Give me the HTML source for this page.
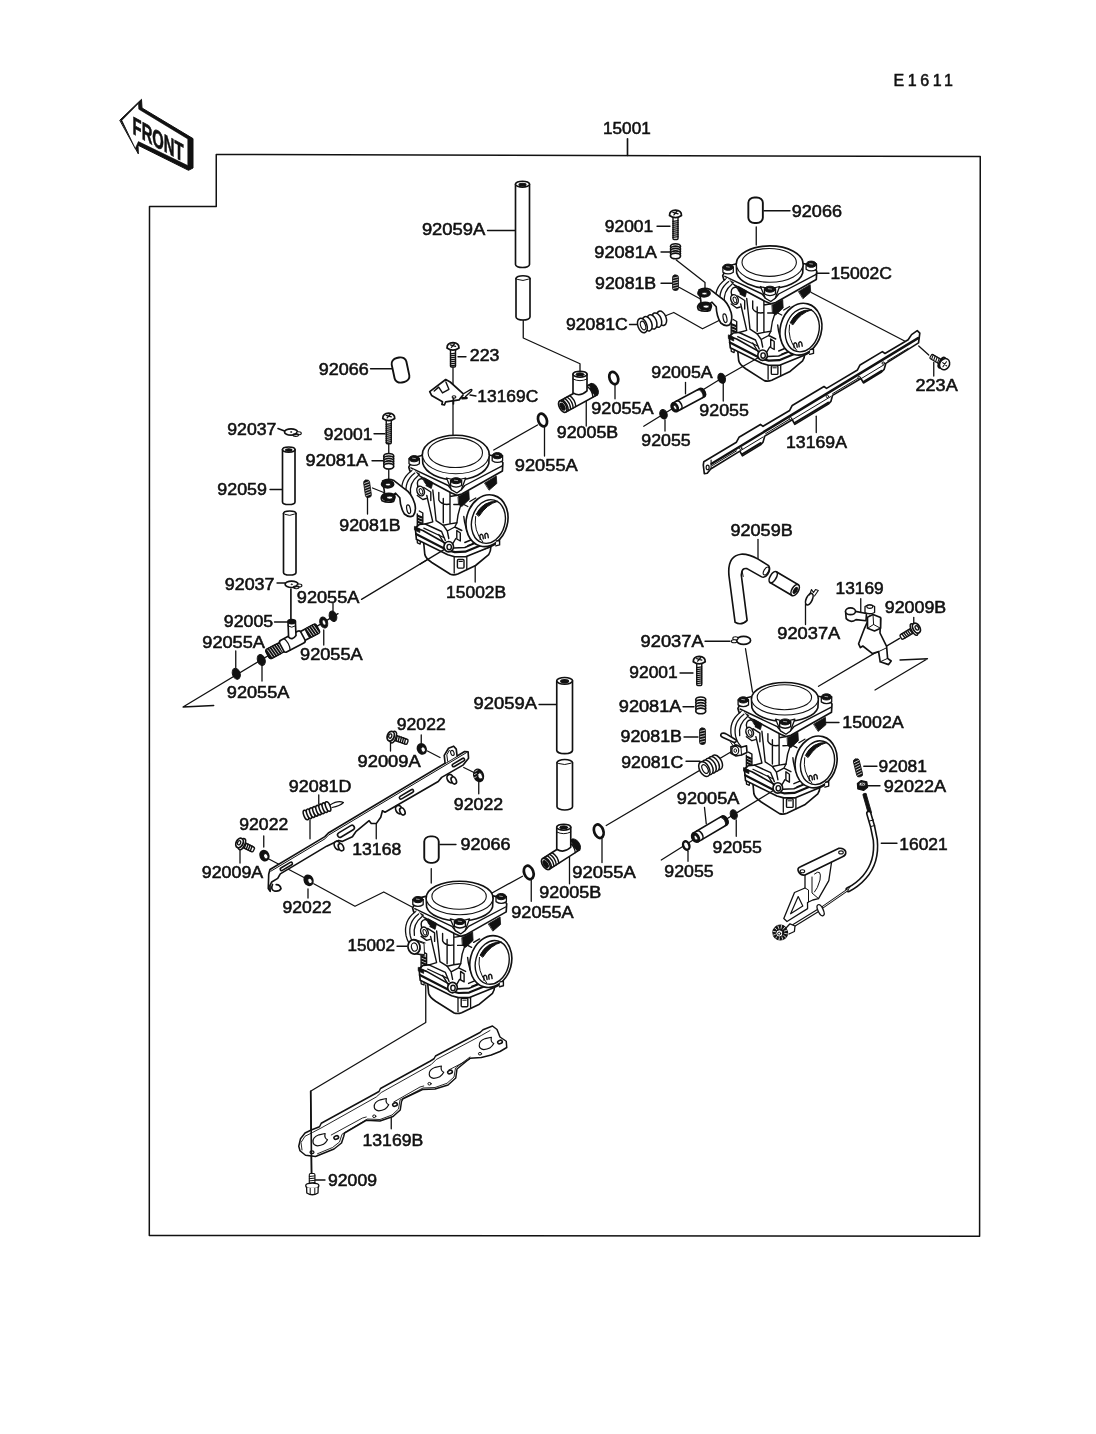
<!DOCTYPE html>
<html><head><meta charset="utf-8"><title>E1611 Carburetor</title>
<style>
html,body{margin:0;padding:0;background:#fff;}
body{width:1096px;height:1434px;overflow:hidden;}
svg{display:block;filter:grayscale(1);}
svg text{font-family:"Liberation Sans",sans-serif;font-size:16.4px;fill:#111;stroke:#111;stroke-width:0.55px;}
.g line,.g path,.g ellipse,.g polyline,.g rect,.g circle{stroke:#111;stroke-linecap:round;stroke-linejoin:round;}
</style></head><body>
<svg width="1096" height="1434" viewBox="0 0 1096 1434">
<rect x="0" y="0" width="1096" height="1434" fill="#fff"/>
<g fill="none" stroke="#111" stroke-width="1.65" stroke-linecap="round" stroke-linejoin="round">
<path d="M216.25,154.50 L980.25,156.50 L979.60,1236.25 L149.30,1235.50 L149.50,206.50 L216.25,206.50 Z" stroke-width="1.5"/>
<line x1="627.50" y1="138.75" x2="627.50" y2="155.50"/>
<g stroke-width="1.3">
<line x1="448.70" y1="546.70" x2="361.50" y2="599.40"/>
<path d="M338.00,613.60 L183.00,707.00 L213.75,705.50"/>
<line x1="493.75" y1="450.00" x2="537.50" y2="425.00"/>
<line x1="811.25" y1="292.50" x2="907.50" y2="342.50"/>
<line x1="918.75" y1="346.00" x2="928.75" y2="355.00"/>
<line x1="643.75" y1="426.25" x2="721.70" y2="378.30"/>
<path d="M523.25,320.00 L523.25,338.00 L580.00,363.75 L580.00,372.00"/>
<line x1="453.00" y1="367.00" x2="453.00" y2="436.00"/>
<path d="M676.25,260.00 L705.00,282.50 L705.00,291.00"/>
<line x1="679.50" y1="287.50" x2="700.00" y2="298.75"/>
<path d="M665.00,316.00 L673.75,312.50 L702.50,328.75 L724.00,318.00"/>
<line x1="756.25" y1="227.00" x2="756.25" y2="245.00"/>
<line x1="388.75" y1="443.00" x2="388.75" y2="484.00"/>
<line x1="372.50" y1="488.00" x2="383.75" y2="492.50"/>
<line x1="899.60" y1="638.40" x2="818.50" y2="686.30"/>
<path d="M900.00,660.00 L927.50,658.75 L875.00,690.00"/>
<line x1="745.50" y1="648.75" x2="752.50" y2="692.00"/>
<line x1="732.50" y1="751.00" x2="606.25" y2="825.50"/>
<line x1="661.25" y1="860.00" x2="733.75" y2="814.50"/>
<line x1="522.50" y1="876.25" x2="492.00" y2="893.00"/>
<path d="M266.00,857.50 L305.00,878.00"/>
<path d="M313.75,883.75 L355.00,906.25 L383.75,892.00 L413.00,907.50"/>
<line x1="431.25" y1="868.75" x2="431.25" y2="883.00"/>
<path d="M425.75,985.00 L425.75,1022.50 L310.50,1091.25 L311.50,1174.00"/>
<line x1="427.50" y1="751.00" x2="440.00" y2="757.50"/>
<line x1="463.75" y1="767.50" x2="475.00" y2="773.00"/>
</g>
<g transform="translate(455.80,454.50)">
<g transform="translate(0,0)">
<path d="M-32.3,86 L-31,100 Q-30,104 -24,108 L-5.4,119.8 Q-2,121 2,119.5 L19.8,111 L32.9,100.1 Q35,97 35.1,92 L9.9,101.2 L-1.1,101.2 Z" fill="#fff"/>
<path d="M-1.6,101.2 L-1.6,118.5 M11,102.3 L11,115" stroke-width="1.3"/>
<rect x="1.6" y="105" width="6.6" height="8.6" rx="1" stroke-width="1.4"/>
<path d="M3.2,107 L6.6,107" stroke-width="1"/>
</g>
<path d="M-40.5,73.3 L-39.4,84.8 L-8,100.3 L-1.1,102.2 L9.9,102.2 L34,92.4 L42,88.5 L44,84 L40,80 L9,93 L-2,93.5 L-33,76 Z" fill="#fff"/>
<path d="M-39.8,79.5 L-8.7,95.6 L-1,97.6 L9.5,97.2 L33,87.6" stroke-width="2.2"/>
<path d="M-32,73.6 L-12,83 M12,91 L36,81.5" stroke-width="1.2"/>
<path d="M-40.5,73.3 L-36.5,70 L-31,69.5" />
<path d="M-38.6,85.6 L-38.4,88.4 L-35.6,89.6 L-35.4,87" stroke-width="1.3"/>
<path d="M-26,30 L-23,66 L-31,70 L-14,78 L-9,86 L0,90 L12,84 L14,60 L22,45 L30,30 Z" fill="#fff" stroke="none"/>
<path d="M-23,35.5 L-19.7,66.2 M-29,41 L-23,67.3 L-30.6,69.5 M-5.8,37 L-5.8,69.4 M-12.5,44 L-12.5,68.3 M-17,38 L-17,45.5 Q-15,49.5 -9,50 L-5.8,49.5 M5.5,49.7 Q2,58 1.1,68.3 M-19.7,66.2 L-12.5,70.8 L-5.8,69.4 L1.1,68.3 M-5.8,42 L3,40.5 M-2,50 L5.5,49.7 L12,45" stroke-width="1.4"/>
<path d="M-12.5,70.8 L-8.5,76.5 L-1,72.5 L1.1,68.3 M-8.5,76.5 L-7,84 M-1,72.5 L6,76 M1,76 L4.5,78.5 L4.5,86.5 L1,84.5 Z M-30.6,69.5 L-14.2,77 L-10.5,86 M8,62 Q9,74 15,84 M9,88 L15,85.5" stroke-width="1.4"/>
<ellipse cx="-7.1" cy="92.2" rx="4.8" ry="5.2" fill="#fff"/>
<ellipse cx="-6.6" cy="92.6" rx="2.2" ry="2.7" stroke-width="1.4"/>
<path d="M-11.2,89.5 L-17,80 M-3,89.2 L0,84" stroke-width="1.4"/>
<ellipse cx="31.2" cy="66.2" rx="20.6" ry="26.2" transform="rotate(15 31.2 66.2)" fill="#fff"/>
<ellipse cx="32.6" cy="67" rx="16.6" ry="22.2" transform="rotate(15 32.6 67)" stroke-width="1.4"/>
<path d="M20.6,59.5 Q27,46.2 42,46.8 Q31,49.6 23.4,61.5 Z" fill="#111" stroke-width="1"/>
<path d="M19.8,62 Q17.5,76 27,87.4" stroke-width="1"/>
<path d="M24.5,84.8 L24,81 Q25.5,78.6 27,81 L27.5,84.2 M29.5,83.8 L29,80 Q30.5,77.6 32,80 L32.5,83.2" stroke-width="1.4"/>
<path d="M14,47 L20,43.5 M12,52 L8,50" stroke-width="1.3"/>
<path d="M40.5,86.5 L43.8,86 L43.8,90.4 L40,91.4" stroke-width="1.4" fill="#fff"/>
<path d="M-47,12.7 L-45.9,16.5 L-4.3,38.5 L1.1,40.8 L6,39.5 L46.6,16.5 L47.1,8.3 L42,2 L30,0 L-30,0 L-42,3 Z" fill="#fff"/>
<path d="M-44.9,13.3 L-7.6,31 L-4.3,35.2 L1.1,37.6 L5.5,35.2 L9,31 L46,11.6" stroke-width="1.4"/>
<path d="M2.5,42 L13,36.5 L13.5,45 L6,52 L3,50 Z" fill="#111" stroke-width="0.8"/>
<path d="M29,28.4 L40.5,21.6 L41,29 L33.5,35.5 Z" fill="#111" stroke-width="0.8"/>
<path d="M-31,23.5 L-23,28 L-24.5,34 L-32,30 Z" fill="#111" stroke-width="0.8"/>
<path d="M-43.5,15.6 L-36,19.6 L-38.5,22.6 L-45,18.8 Z" fill="#111" stroke-width="0.8"/>
<path d="M-46.8,4.2 L-46.8,9.2 Q-41.6,12.7 -36.4,9.2 L-36.4,4.2" fill="#fff" stroke-width="1.3"/>
<ellipse cx="-41.6" cy="4.2" rx="5.2" ry="3.1" fill="#111" stroke-width="1"/>
<path d="M-43.2,3.7 L-40.4,4.1" stroke="#fff" stroke-width="0.6"/>
<path d="M36.4,1.2 L36.4,6.2 Q41.6,9.7 46.8,6.2 L46.8,1.2" fill="#fff" stroke-width="1.3"/>
<ellipse cx="41.6" cy="1.2" rx="5.2" ry="3.1" fill="#111" stroke-width="1"/>
<path d="M40.0,0.7 L42.8,1.1" stroke="#fff" stroke-width="0.6"/>
<path d="M-33.4,0.00 L-33,9.00 A33.4,19.30 0 0 0 33,9.00 L33.4,0.00 Z" fill="#fff"/>
<ellipse cx="0" cy="0.00" rx="33.4" ry="19.30" fill="#fff" stroke="none"/>
<path d="M-33.4,0.00 A33.4,19.30 0 0 1 33.4,0.00"/>
<path d="M-33.4,0.00 A33.4,19.30 0 0 0 33.4,0.00" stroke-width="1.1"/>
<ellipse cx="-0.5" cy="-1.80" rx="27.2" ry="14.80" stroke-width="1.1"/>
<path d="M-9.3,23.5 L-4.3,35.2 L1.1,38.5 L5.5,35.2 L9.9,23.5 Q0,27 -9.3,23.5 Z" fill="#fff" stroke-width="1.3"/>
<path d="M-5.2,26 L-5.2,31 Q0.3,34.2 5.8,31 L5.8,26" fill="#fff" stroke-width="1.4"/>
<ellipse cx="0.3" cy="26.2" rx="5.5" ry="3" fill="#111" stroke-width="1"/>
<path d="M-1.4,25.7 L1.8,26.1" stroke="#fff" stroke-width="0.6"/>
<path d="M-42,15 Q-57,24 -54,41 Q-52,50 -45,54 L-33,50 L-30,30 Z" fill="#fff" stroke="none"/>
<path d="M-44.5,16.5 Q-56.5,25.5 -53.5,40.5 Q-51.5,48.5 -46.5,52.5 M-41,18.6 Q-52,27 -49.3,40.5 Q-47.8,47 -44,50.5 M-37.5,21 Q-47,28.5 -45.2,40" stroke-width="1.3"/>
<path d="M-38,32 Q-40,25 -34,24 L-26,30" stroke-width="1.4"/>
<ellipse cx="-35.2" cy="36.5" rx="3.6" ry="5" transform="rotate(-20 -35.2 36.5)" fill="#fff" stroke-width="1.5"/>
<ellipse cx="-34.8" cy="36.9" rx="1.6" ry="2.9" transform="rotate(-20 -34.8 36.9)" stroke-width="1"/>
<path d="M-32,33 L-25,37.5 L-25,46 M-38.5,41 L-33,45 L-29.5,44" stroke-width="1.4"/>
<path d="M-36.5,56.5 L-33,58.5 L-33,69 M-38.5,59.5 L-38.5,72" stroke-width="1.4"/>
<path d="M-37.6,61.4 L-33.8,63 M-37.6,64.4 L-33.8,66 M-37.6,67.4 L-33.8,69" stroke-width="2.2"/>
<path d="M-41,72 L-36,74.4 L-36,78 L-41,75.6 Z" fill="#111" stroke-width="0.8"/>
</g>
<g transform="translate(769.70,263.00)">
<g transform="translate(0,-2.2)">
<path d="M-32.3,86 L-31,100 Q-30,104 -24,108 L-5.4,119.8 Q-2,121 2,119.5 L19.8,111 L32.9,100.1 Q35,97 35.1,92 L9.9,101.2 L-1.1,101.2 Z" fill="#fff"/>
<path d="M-1.6,101.2 L-1.6,118.5 M11,102.3 L11,115" stroke-width="1.3"/>
<rect x="1.6" y="105" width="6.6" height="8.6" rx="1" stroke-width="1.4"/>
<path d="M3.2,107 L6.6,107" stroke-width="1"/>
</g>
<path d="M-40.5,73.3 L-39.4,84.8 L-8,100.3 L-1.1,102.2 L9.9,102.2 L34,92.4 L42,88.5 L44,84 L40,80 L9,93 L-2,93.5 L-33,76 Z" fill="#fff"/>
<path d="M-39.8,79.5 L-8.7,95.6 L-1,97.6 L9.5,97.2 L33,87.6" stroke-width="2.2"/>
<path d="M-32,73.6 L-12,83 M12,91 L36,81.5" stroke-width="1.2"/>
<path d="M-40.5,73.3 L-36.5,70 L-31,69.5" />
<path d="M-38.6,85.6 L-38.4,88.4 L-35.6,89.6 L-35.4,87" stroke-width="1.3"/>
<path d="M-26,30 L-23,66 L-31,70 L-14,78 L-9,86 L0,90 L12,84 L14,60 L22,45 L30,30 Z" fill="#fff" stroke="none"/>
<path d="M-23,35.5 L-19.7,66.2 M-29,41 L-23,67.3 L-30.6,69.5 M-5.8,37 L-5.8,69.4 M-12.5,44 L-12.5,68.3 M-17,38 L-17,45.5 Q-15,49.5 -9,50 L-5.8,49.5 M5.5,49.7 Q2,58 1.1,68.3 M-19.7,66.2 L-12.5,70.8 L-5.8,69.4 L1.1,68.3 M-5.8,42 L3,40.5 M-2,50 L5.5,49.7 L12,45" stroke-width="1.4"/>
<path d="M-12.5,70.8 L-8.5,76.5 L-1,72.5 L1.1,68.3 M-8.5,76.5 L-7,84 M-1,72.5 L6,76 M1,76 L4.5,78.5 L4.5,86.5 L1,84.5 Z M-30.6,69.5 L-14.2,77 L-10.5,86 M8,62 Q9,74 15,84 M9,88 L15,85.5" stroke-width="1.4"/>
<ellipse cx="-7.1" cy="92.2" rx="4.8" ry="5.2" fill="#fff"/>
<ellipse cx="-6.6" cy="92.6" rx="2.2" ry="2.7" stroke-width="1.4"/>
<path d="M-11.2,89.5 L-17,80 M-3,89.2 L0,84" stroke-width="1.4"/>
<ellipse cx="31.2" cy="66.2" rx="20.6" ry="26.2" transform="rotate(15 31.2 66.2)" fill="#fff"/>
<ellipse cx="32.6" cy="67" rx="16.6" ry="22.2" transform="rotate(15 32.6 67)" stroke-width="1.4"/>
<path d="M20.6,59.5 Q27,46.2 42,46.8 Q31,49.6 23.4,61.5 Z" fill="#111" stroke-width="1"/>
<path d="M19.8,62 Q17.5,76 27,87.4" stroke-width="1"/>
<path d="M24.5,84.8 L24,81 Q25.5,78.6 27,81 L27.5,84.2 M29.5,83.8 L29,80 Q30.5,77.6 32,80 L32.5,83.2" stroke-width="1.4"/>
<path d="M14,47 L20,43.5 M12,52 L8,50" stroke-width="1.3"/>
<path d="M40.5,86.5 L43.8,86 L43.8,90.4 L40,91.4" stroke-width="1.4" fill="#fff"/>
<path d="M-47,12.7 L-45.9,16.5 L-4.3,38.5 L1.1,40.8 L6,39.5 L46.6,16.5 L47.1,8.3 L42,2 L30,0 L-30,0 L-42,3 Z" fill="#fff"/>
<path d="M-44.9,13.3 L-7.6,31 L-4.3,35.2 L1.1,37.6 L5.5,35.2 L9,31 L46,11.6" stroke-width="1.4"/>
<path d="M2.5,42 L13,36.5 L13.5,45 L6,52 L3,50 Z" fill="#111" stroke-width="0.8"/>
<path d="M29,28.4 L40.5,21.6 L41,29 L33.5,35.5 Z" fill="#111" stroke-width="0.8"/>
<path d="M-31,23.5 L-23,28 L-24.5,34 L-32,30 Z" fill="#111" stroke-width="0.8"/>
<path d="M-43.5,15.6 L-36,19.6 L-38.5,22.6 L-45,18.8 Z" fill="#111" stroke-width="0.8"/>
<path d="M-46.8,4.2 L-46.8,9.2 Q-41.6,12.7 -36.4,9.2 L-36.4,4.2" fill="#fff" stroke-width="1.3"/>
<ellipse cx="-41.6" cy="4.2" rx="5.2" ry="3.1" fill="#111" stroke-width="1"/>
<path d="M-43.2,3.7 L-40.4,4.1" stroke="#fff" stroke-width="0.6"/>
<path d="M36.4,1.2 L36.4,6.2 Q41.6,9.7 46.8,6.2 L46.8,1.2" fill="#fff" stroke-width="1.3"/>
<ellipse cx="41.6" cy="1.2" rx="5.2" ry="3.1" fill="#111" stroke-width="1"/>
<path d="M40.0,0.7 L42.8,1.1" stroke="#fff" stroke-width="0.6"/>
<path d="M-33.4,1.10 L-33,10.10 A33.4,18.20 0 0 0 33,10.10 L33.4,1.10 Z" fill="#fff"/>
<ellipse cx="0" cy="1.10" rx="33.4" ry="18.20" fill="#fff" stroke="none"/>
<path d="M-33.4,1.10 A33.4,18.20 0 0 1 33.4,1.10"/>
<path d="M-33.4,1.10 A33.4,18.20 0 0 0 33.4,1.10" stroke-width="1.1"/>
<ellipse cx="-0.5" cy="-0.60" rx="27.2" ry="13.96" stroke-width="1.1"/>
<path d="M-9.3,23.5 L-4.3,35.2 L1.1,38.5 L5.5,35.2 L9.9,23.5 Q0,27 -9.3,23.5 Z" fill="#fff" stroke-width="1.3"/>
<path d="M-5.2,26 L-5.2,31 Q0.3,34.2 5.8,31 L5.8,26" fill="#fff" stroke-width="1.4"/>
<ellipse cx="0.3" cy="26.2" rx="5.5" ry="3" fill="#111" stroke-width="1"/>
<path d="M-1.4,25.7 L1.8,26.1" stroke="#fff" stroke-width="0.6"/>
<path d="M-42,15 Q-57,24 -54,41 Q-52,50 -45,54 L-33,50 L-30,30 Z" fill="#fff" stroke="none"/>
<path d="M-44.5,16.5 Q-56.5,25.5 -53.5,40.5 Q-51.5,48.5 -46.5,52.5 M-41,18.6 Q-52,27 -49.3,40.5 Q-47.8,47 -44,50.5 M-37.5,21 Q-47,28.5 -45.2,40" stroke-width="1.3"/>
<path d="M-38,32 Q-40,25 -34,24 L-26,30" stroke-width="1.4"/>
<ellipse cx="-35.2" cy="36.5" rx="3.6" ry="5" transform="rotate(-20 -35.2 36.5)" fill="#fff" stroke-width="1.5"/>
<ellipse cx="-34.8" cy="36.9" rx="1.6" ry="2.9" transform="rotate(-20 -34.8 36.9)" stroke-width="1"/>
<path d="M-32,33 L-25,37.5 L-25,46 M-38.5,41 L-33,45 L-29.5,44" stroke-width="1.4"/>
<path d="M-36.5,56.5 L-33,58.5 L-33,69 M-38.5,59.5 L-38.5,72" stroke-width="1.4"/>
<path d="M-37.6,61.4 L-33.8,63 M-37.6,64.4 L-33.8,66 M-37.6,67.4 L-33.8,69" stroke-width="2.2"/>
<path d="M-41,72 L-36,74.4 L-36,78 L-41,75.6 Z" fill="#111" stroke-width="0.8"/>
</g>
<g transform="translate(784.90,695.70)">
<g transform="translate(0,-1.9)">
<path d="M-32.3,86 L-31,100 Q-30,104 -24,108 L-5.4,119.8 Q-2,121 2,119.5 L19.8,111 L32.9,100.1 Q35,97 35.1,92 L9.9,101.2 L-1.1,101.2 Z" fill="#fff"/>
<path d="M-1.6,101.2 L-1.6,118.5 M11,102.3 L11,115" stroke-width="1.3"/>
<rect x="1.6" y="105" width="6.6" height="8.6" rx="1" stroke-width="1.4"/>
<path d="M3.2,107 L6.6,107" stroke-width="1"/>
</g>
<path d="M-40.5,73.3 L-39.4,84.8 L-8,100.3 L-1.1,102.2 L9.9,102.2 L34,92.4 L42,88.5 L44,84 L40,80 L9,93 L-2,93.5 L-33,76 Z" fill="#fff"/>
<path d="M-39.8,79.5 L-8.7,95.6 L-1,97.6 L9.5,97.2 L33,87.6" stroke-width="2.2"/>
<path d="M-32,73.6 L-12,83 M12,91 L36,81.5" stroke-width="1.2"/>
<path d="M-40.5,73.3 L-36.5,70 L-31,69.5" />
<path d="M-38.6,85.6 L-38.4,88.4 L-35.6,89.6 L-35.4,87" stroke-width="1.3"/>
<path d="M-26,30 L-23,66 L-31,70 L-14,78 L-9,86 L0,90 L12,84 L14,60 L22,45 L30,30 Z" fill="#fff" stroke="none"/>
<path d="M-23,35.5 L-19.7,66.2 M-29,41 L-23,67.3 L-30.6,69.5 M-5.8,37 L-5.8,69.4 M-12.5,44 L-12.5,68.3 M-17,38 L-17,45.5 Q-15,49.5 -9,50 L-5.8,49.5 M5.5,49.7 Q2,58 1.1,68.3 M-19.7,66.2 L-12.5,70.8 L-5.8,69.4 L1.1,68.3 M-5.8,42 L3,40.5 M-2,50 L5.5,49.7 L12,45" stroke-width="1.4"/>
<path d="M-12.5,70.8 L-8.5,76.5 L-1,72.5 L1.1,68.3 M-8.5,76.5 L-7,84 M-1,72.5 L6,76 M1,76 L4.5,78.5 L4.5,86.5 L1,84.5 Z M-30.6,69.5 L-14.2,77 L-10.5,86 M8,62 Q9,74 15,84 M9,88 L15,85.5" stroke-width="1.4"/>
<ellipse cx="-7.1" cy="92.2" rx="4.8" ry="5.2" fill="#fff"/>
<ellipse cx="-6.6" cy="92.6" rx="2.2" ry="2.7" stroke-width="1.4"/>
<path d="M-11.2,89.5 L-17,80 M-3,89.2 L0,84" stroke-width="1.4"/>
<ellipse cx="31.2" cy="66.2" rx="20.6" ry="26.2" transform="rotate(15 31.2 66.2)" fill="#fff"/>
<ellipse cx="32.6" cy="67" rx="16.6" ry="22.2" transform="rotate(15 32.6 67)" stroke-width="1.4"/>
<path d="M20.6,59.5 Q27,46.2 42,46.8 Q31,49.6 23.4,61.5 Z" fill="#111" stroke-width="1"/>
<path d="M19.8,62 Q17.5,76 27,87.4" stroke-width="1"/>
<path d="M24.5,84.8 L24,81 Q25.5,78.6 27,81 L27.5,84.2 M29.5,83.8 L29,80 Q30.5,77.6 32,80 L32.5,83.2" stroke-width="1.4"/>
<path d="M14,47 L20,43.5 M12,52 L8,50" stroke-width="1.3"/>
<path d="M40.5,86.5 L43.8,86 L43.8,90.4 L40,91.4" stroke-width="1.4" fill="#fff"/>
<path d="M-47,12.7 L-45.9,16.5 L-4.3,38.5 L1.1,40.8 L6,39.5 L46.6,16.5 L47.1,8.3 L42,2 L30,0 L-30,0 L-42,3 Z" fill="#fff"/>
<path d="M-44.9,13.3 L-7.6,31 L-4.3,35.2 L1.1,37.6 L5.5,35.2 L9,31 L46,11.6" stroke-width="1.4"/>
<path d="M2.5,42 L13,36.5 L13.5,45 L6,52 L3,50 Z" fill="#111" stroke-width="0.8"/>
<path d="M29,28.4 L40.5,21.6 L41,29 L33.5,35.5 Z" fill="#111" stroke-width="0.8"/>
<path d="M-31,23.5 L-23,28 L-24.5,34 L-32,30 Z" fill="#111" stroke-width="0.8"/>
<path d="M-43.5,15.6 L-36,19.6 L-38.5,22.6 L-45,18.8 Z" fill="#111" stroke-width="0.8"/>
<path d="M-46.8,4.2 L-46.8,9.2 Q-41.6,12.7 -36.4,9.2 L-36.4,4.2" fill="#fff" stroke-width="1.3"/>
<ellipse cx="-41.6" cy="4.2" rx="5.2" ry="3.1" fill="#111" stroke-width="1"/>
<path d="M-43.2,3.7 L-40.4,4.1" stroke="#fff" stroke-width="0.6"/>
<path d="M36.4,1.2 L36.4,6.2 Q41.6,9.7 46.8,6.2 L46.8,1.2" fill="#fff" stroke-width="1.3"/>
<ellipse cx="41.6" cy="1.2" rx="5.2" ry="3.1" fill="#111" stroke-width="1"/>
<path d="M40.0,0.7 L42.8,1.1" stroke="#fff" stroke-width="0.6"/>
<path d="M-33.4,3.05 L-33,12.05 A33.4,16.25 0 0 0 33,12.05 L33.4,3.05 Z" fill="#fff"/>
<ellipse cx="0" cy="3.05" rx="33.4" ry="16.25" fill="#fff" stroke="none"/>
<path d="M-33.4,3.05 A33.4,16.25 0 0 1 33.4,3.05"/>
<path d="M-33.4,3.05 A33.4,16.25 0 0 0 33.4,3.05" stroke-width="1.1"/>
<ellipse cx="-0.5" cy="1.53" rx="27.2" ry="12.46" stroke-width="1.1"/>
<path d="M-9.3,23.5 L-4.3,35.2 L1.1,38.5 L5.5,35.2 L9.9,23.5 Q0,27 -9.3,23.5 Z" fill="#fff" stroke-width="1.3"/>
<path d="M-5.2,26 L-5.2,31 Q0.3,34.2 5.8,31 L5.8,26" fill="#fff" stroke-width="1.4"/>
<ellipse cx="0.3" cy="26.2" rx="5.5" ry="3" fill="#111" stroke-width="1"/>
<path d="M-1.4,25.7 L1.8,26.1" stroke="#fff" stroke-width="0.6"/>
<path d="M-42,15 Q-57,24 -54,41 Q-52,50 -45,54 L-33,50 L-30,30 Z" fill="#fff" stroke="none"/>
<path d="M-44.5,16.5 Q-56.5,25.5 -53.5,40.5 Q-51.5,48.5 -46.5,52.5 M-41,18.6 Q-52,27 -49.3,40.5 Q-47.8,47 -44,50.5 M-37.5,21 Q-47,28.5 -45.2,40" stroke-width="1.3"/>
<path d="M-38,32 Q-40,25 -34,24 L-26,30" stroke-width="1.4"/>
<ellipse cx="-35.2" cy="36.5" rx="3.6" ry="5" transform="rotate(-20 -35.2 36.5)" fill="#fff" stroke-width="1.5"/>
<ellipse cx="-34.8" cy="36.9" rx="1.6" ry="2.9" transform="rotate(-20 -34.8 36.9)" stroke-width="1"/>
<path d="M-32,33 L-25,37.5 L-25,46 M-38.5,41 L-33,45 L-29.5,44" stroke-width="1.4"/>
<path d="M-36.5,56.5 L-33,58.5 L-33,69 M-38.5,59.5 L-38.5,72" stroke-width="1.4"/>
<path d="M-37.6,61.4 L-33.8,63 M-37.6,64.4 L-33.8,66 M-37.6,67.4 L-33.8,69" stroke-width="2.2"/>
<path d="M-41,72 L-36,74.4 L-36,78 L-41,75.6 Z" fill="#111" stroke-width="0.8"/>
</g>
<g transform="translate(459.60,895.40)">
<g transform="translate(0,-2.2)">
<path d="M-32.3,86 L-31,100 Q-30,104 -24,108 L-5.4,119.8 Q-2,121 2,119.5 L19.8,111 L32.9,100.1 Q35,97 35.1,92 L9.9,101.2 L-1.1,101.2 Z" fill="#fff"/>
<path d="M-1.6,101.2 L-1.6,118.5 M11,102.3 L11,115" stroke-width="1.3"/>
<rect x="1.6" y="105" width="6.6" height="8.6" rx="1" stroke-width="1.4"/>
<path d="M3.2,107 L6.6,107" stroke-width="1"/>
</g>
<path d="M-40.5,73.3 L-39.4,84.8 L-8,100.3 L-1.1,102.2 L9.9,102.2 L34,92.4 L42,88.5 L44,84 L40,80 L9,93 L-2,93.5 L-33,76 Z" fill="#fff"/>
<path d="M-39.8,79.5 L-8.7,95.6 L-1,97.6 L9.5,97.2 L33,87.6" stroke-width="2.2"/>
<path d="M-32,73.6 L-12,83 M12,91 L36,81.5" stroke-width="1.2"/>
<path d="M-40.5,73.3 L-36.5,70 L-31,69.5" />
<path d="M-38.6,85.6 L-38.4,88.4 L-35.6,89.6 L-35.4,87" stroke-width="1.3"/>
<path d="M-26,30 L-23,66 L-31,70 L-14,78 L-9,86 L0,90 L12,84 L14,60 L22,45 L30,30 Z" fill="#fff" stroke="none"/>
<path d="M-23,35.5 L-19.7,66.2 M-29,41 L-23,67.3 L-30.6,69.5 M-5.8,37 L-5.8,69.4 M-12.5,44 L-12.5,68.3 M-17,38 L-17,45.5 Q-15,49.5 -9,50 L-5.8,49.5 M5.5,49.7 Q2,58 1.1,68.3 M-19.7,66.2 L-12.5,70.8 L-5.8,69.4 L1.1,68.3 M-5.8,42 L3,40.5 M-2,50 L5.5,49.7 L12,45" stroke-width="1.4"/>
<path d="M-12.5,70.8 L-8.5,76.5 L-1,72.5 L1.1,68.3 M-8.5,76.5 L-7,84 M-1,72.5 L6,76 M1,76 L4.5,78.5 L4.5,86.5 L1,84.5 Z M-30.6,69.5 L-14.2,77 L-10.5,86 M8,62 Q9,74 15,84 M9,88 L15,85.5" stroke-width="1.4"/>
<ellipse cx="-7.1" cy="92.2" rx="4.8" ry="5.2" fill="#fff"/>
<ellipse cx="-6.6" cy="92.6" rx="2.2" ry="2.7" stroke-width="1.4"/>
<path d="M-11.2,89.5 L-17,80 M-3,89.2 L0,84" stroke-width="1.4"/>
<ellipse cx="31.2" cy="66.2" rx="20.6" ry="26.2" transform="rotate(15 31.2 66.2)" fill="#fff"/>
<ellipse cx="32.6" cy="67" rx="16.6" ry="22.2" transform="rotate(15 32.6 67)" stroke-width="1.4"/>
<path d="M20.6,59.5 Q27,46.2 42,46.8 Q31,49.6 23.4,61.5 Z" fill="#111" stroke-width="1"/>
<path d="M19.8,62 Q17.5,76 27,87.4" stroke-width="1"/>
<path d="M24.5,84.8 L24,81 Q25.5,78.6 27,81 L27.5,84.2 M29.5,83.8 L29,80 Q30.5,77.6 32,80 L32.5,83.2" stroke-width="1.4"/>
<path d="M14,47 L20,43.5 M12,52 L8,50" stroke-width="1.3"/>
<path d="M40.5,86.5 L43.8,86 L43.8,90.4 L40,91.4" stroke-width="1.4" fill="#fff"/>
<path d="M-47,12.7 L-45.9,16.5 L-4.3,38.5 L1.1,40.8 L6,39.5 L46.6,16.5 L47.1,8.3 L42,2 L30,0 L-30,0 L-42,3 Z" fill="#fff"/>
<path d="M-44.9,13.3 L-7.6,31 L-4.3,35.2 L1.1,37.6 L5.5,35.2 L9,31 L46,11.6" stroke-width="1.4"/>
<path d="M2.5,42 L13,36.5 L13.5,45 L6,52 L3,50 Z" fill="#111" stroke-width="0.8"/>
<path d="M29,28.4 L40.5,21.6 L41,29 L33.5,35.5 Z" fill="#111" stroke-width="0.8"/>
<path d="M-31,23.5 L-23,28 L-24.5,34 L-32,30 Z" fill="#111" stroke-width="0.8"/>
<path d="M-43.5,15.6 L-36,19.6 L-38.5,22.6 L-45,18.8 Z" fill="#111" stroke-width="0.8"/>
<path d="M-46.8,4.2 L-46.8,9.2 Q-41.6,12.7 -36.4,9.2 L-36.4,4.2" fill="#fff" stroke-width="1.3"/>
<ellipse cx="-41.6" cy="4.2" rx="5.2" ry="3.1" fill="#111" stroke-width="1"/>
<path d="M-43.2,3.7 L-40.4,4.1" stroke="#fff" stroke-width="0.6"/>
<path d="M36.4,1.2 L36.4,6.2 Q41.6,9.7 46.8,6.2 L46.8,1.2" fill="#fff" stroke-width="1.3"/>
<ellipse cx="41.6" cy="1.2" rx="5.2" ry="3.1" fill="#111" stroke-width="1"/>
<path d="M40.0,0.7 L42.8,1.1" stroke="#fff" stroke-width="0.6"/>
<path d="M-33.4,2.55 L-33,11.55 A33.4,16.75 0 0 0 33,11.55 L33.4,2.55 Z" fill="#fff"/>
<ellipse cx="0" cy="2.55" rx="33.4" ry="16.75" fill="#fff" stroke="none"/>
<path d="M-33.4,2.55 A33.4,16.75 0 0 1 33.4,2.55"/>
<path d="M-33.4,2.55 A33.4,16.75 0 0 0 33.4,2.55" stroke-width="1.1"/>
<ellipse cx="-0.5" cy="0.99" rx="27.2" ry="12.84" stroke-width="1.1"/>
<path d="M-9.3,23.5 L-4.3,35.2 L1.1,38.5 L5.5,35.2 L9.9,23.5 Q0,27 -9.3,23.5 Z" fill="#fff" stroke-width="1.3"/>
<path d="M-5.2,26 L-5.2,31 Q0.3,34.2 5.8,31 L5.8,26" fill="#fff" stroke-width="1.4"/>
<ellipse cx="0.3" cy="26.2" rx="5.5" ry="3" fill="#111" stroke-width="1"/>
<path d="M-1.4,25.7 L1.8,26.1" stroke="#fff" stroke-width="0.6"/>
<path d="M-42,15 Q-57,24 -54,41 Q-52,50 -45,54 L-33,50 L-30,30 Z" fill="#fff" stroke="none"/>
<path d="M-44.5,16.5 Q-56.5,25.5 -53.5,40.5 Q-51.5,48.5 -46.5,52.5 M-41,18.6 Q-52,27 -49.3,40.5 Q-47.8,47 -44,50.5 M-37.5,21 Q-47,28.5 -45.2,40" stroke-width="1.3"/>
<path d="M-38,32 Q-40,25 -34,24 L-26,30" stroke-width="1.4"/>
<ellipse cx="-35.2" cy="36.5" rx="3.6" ry="5" transform="rotate(-20 -35.2 36.5)" fill="#fff" stroke-width="1.5"/>
<ellipse cx="-34.8" cy="36.9" rx="1.6" ry="2.9" transform="rotate(-20 -34.8 36.9)" stroke-width="1"/>
<path d="M-32,33 L-25,37.5 L-25,46 M-38.5,41 L-33,45 L-29.5,44" stroke-width="1.4"/>
<path d="M-36.5,56.5 L-33,58.5 L-33,69 M-38.5,59.5 L-38.5,72" stroke-width="1.4"/>
<path d="M-37.6,61.4 L-33.8,63 M-37.6,64.4 L-33.8,66 M-37.6,67.4 L-33.8,69" stroke-width="2.2"/>
<path d="M-41,72 L-36,74.4 L-36,78 L-41,75.6 Z" fill="#111" stroke-width="0.8"/>
</g>
<g stroke-width="1.3">
<line x1="444.80" y1="549.10" x2="420.00" y2="564.10"/>
<line x1="758.60" y1="357.50" x2="725.50" y2="376.20"/>
<line x1="773.80" y1="790.30" x2="737.50" y2="812.40"/>
<line x1="487.50" y1="230.50" x2="515.00" y2="230.50"/>
<line x1="764.00" y1="210.75" x2="790.00" y2="210.75"/>
<line x1="657.00" y1="226.25" x2="670.00" y2="226.25"/>
<line x1="661.00" y1="252.00" x2="670.00" y2="252.00"/>
<line x1="661.00" y1="283.25" x2="672.00" y2="283.25"/>
<line x1="816.25" y1="273.25" x2="829.00" y2="273.25"/>
<line x1="629.50" y1="324.50" x2="640.00" y2="324.50"/>
<line x1="370.50" y1="368.75" x2="393.00" y2="368.75"/>
<line x1="458.00" y1="356.75" x2="466.00" y2="356.75"/>
<line x1="470.00" y1="395.00" x2="476.00" y2="396.00"/>
<line x1="685.50" y1="382.50" x2="685.50" y2="393.75"/>
<line x1="933.75" y1="362.50" x2="933.75" y2="376.00"/>
<line x1="615.00" y1="385.50" x2="615.00" y2="398.75"/>
<line x1="723.25" y1="382.50" x2="723.25" y2="401.00"/>
<line x1="586.25" y1="397.50" x2="586.25" y2="426.00"/>
<line x1="665.00" y1="420.00" x2="665.00" y2="431.00"/>
<line x1="816.25" y1="416.25" x2="816.25" y2="432.50"/>
<line x1="544.50" y1="426.00" x2="544.50" y2="456.00"/>
<line x1="374.00" y1="433.75" x2="385.00" y2="433.75"/>
<line x1="372.00" y1="460.75" x2="383.00" y2="460.75"/>
<line x1="270.00" y1="489.50" x2="283.00" y2="489.50"/>
<line x1="367.50" y1="497.00" x2="367.50" y2="514.00"/>
<line x1="758.00" y1="539.50" x2="758.00" y2="558.75"/>
<line x1="277.00" y1="583.00" x2="285.00" y2="583.00"/>
<line x1="860.75" y1="598.75" x2="860.75" y2="617.50"/>
<line x1="475.20" y1="566.00" x2="475.20" y2="582.00"/>
<line x1="913.75" y1="617.50" x2="913.75" y2="623.75"/>
<line x1="274.50" y1="622.00" x2="287.00" y2="622.00"/>
<line x1="805.50" y1="603.75" x2="805.50" y2="624.50"/>
<line x1="705.00" y1="641.25" x2="730.00" y2="641.25"/>
<line x1="235.75" y1="651.00" x2="235.75" y2="667.50"/>
<line x1="323.75" y1="630.00" x2="323.75" y2="645.00"/>
<line x1="333.00" y1="603.00" x2="333.00" y2="611.00"/>
<line x1="680.00" y1="673.00" x2="693.00" y2="673.00"/>
<line x1="262.00" y1="665.00" x2="262.00" y2="681.00"/>
<line x1="539.00" y1="704.50" x2="556.00" y2="704.50"/>
<line x1="683.00" y1="706.75" x2="694.00" y2="706.75"/>
<line x1="825.30" y1="722.50" x2="839.00" y2="722.50"/>
<line x1="421.25" y1="735.00" x2="421.25" y2="743.00"/>
<line x1="684.00" y1="737.00" x2="698.00" y2="737.00"/>
<line x1="390.50" y1="742.00" x2="390.50" y2="751.00"/>
<line x1="686.00" y1="761.25" x2="700.00" y2="761.25"/>
<line x1="863.75" y1="766.25" x2="877.00" y2="766.25"/>
<line x1="868.00" y1="785.75" x2="880.00" y2="785.75"/>
<line x1="318.75" y1="795.00" x2="318.75" y2="804.00"/>
<line x1="704.50" y1="807.50" x2="706.25" y2="823.75"/>
<line x1="478.75" y1="782.50" x2="478.75" y2="793.75"/>
<line x1="263.75" y1="836.00" x2="263.75" y2="847.00"/>
<line x1="440.00" y1="844.50" x2="456.00" y2="844.50"/>
<line x1="881.25" y1="843.25" x2="897.00" y2="843.25"/>
<line x1="736.25" y1="820.00" x2="736.25" y2="836.25"/>
<line x1="376.25" y1="822.50" x2="376.25" y2="838.75"/>
<line x1="688.00" y1="851.25" x2="688.00" y2="861.25"/>
<line x1="240.00" y1="850.00" x2="240.00" y2="863.00"/>
<line x1="602.00" y1="838.75" x2="602.00" y2="862.50"/>
<line x1="569.50" y1="857.50" x2="569.50" y2="883.75"/>
<line x1="308.00" y1="889.00" x2="308.00" y2="898.00"/>
<line x1="531.25" y1="880.00" x2="531.25" y2="901.25"/>
<line x1="397.00" y1="946.25" x2="407.00" y2="946.25"/>
<line x1="391.25" y1="1116.25" x2="391.25" y2="1128.75"/>
<line x1="315.00" y1="1180.00" x2="325.00" y2="1180.00"/>
<line x1="310.00" y1="820.00" x2="310.00" y2="838.75"/>
</g>
<path d="M515.50,184.19 L515.50,264.56 A7.00,2.94 0 0 0 529.50,264.56 L529.50,184.19" fill="#fff"/>
<ellipse cx="522.50" cy="184.19" rx="7.00" ry="2.94" fill="#fff"/>
<ellipse cx="522.50" cy="184.59" rx="3.50" ry="1.32" stroke-width="1.2" fill="#111"/>
<path d="M516.00,278.69 L516.00,317.06 A7.00,2.94 0 0 0 530.00,317.06 L530.00,278.69" fill="#fff"/>
<path d="M516.00,278.69 A7.00,2.94 0 0 1 530.00,278.69"/>
<path d="M517.50,279.49 Q523.00,281.69 528.50,279.19" stroke-width="1"/>
<path d="M282.50,449.62 L282.50,501.88 A6.25,2.62 0 0 0 295.00,501.88 L295.00,449.62" fill="#fff"/>
<ellipse cx="288.75" cy="449.62" rx="6.25" ry="2.62" fill="#fff"/>
<ellipse cx="288.75" cy="450.02" rx="3.12" ry="1.18" stroke-width="1.2" fill="#111"/>
<path d="M283.50,513.62 L283.50,572.38 A6.25,2.62 0 0 0 296.00,572.38 L296.00,513.62" fill="#fff"/>
<path d="M283.50,513.62 A6.25,2.62 0 0 1 296.00,513.62"/>
<path d="M285.00,514.42 Q289.75,516.62 294.50,514.12" stroke-width="1"/>
<path d="M556.75,680.81 L556.75,750.44 A7.88,3.31 0 0 0 572.50,750.44 L572.50,680.81" fill="#fff"/>
<ellipse cx="564.62" cy="680.81" rx="7.88" ry="3.31" fill="#fff"/>
<ellipse cx="564.62" cy="681.21" rx="3.94" ry="1.49" stroke-width="1.2" fill="#111"/>
<path d="M557.00,762.75 L557.00,806.75 A7.75,3.25 0 0 0 572.50,806.75 L572.50,762.75" fill="#fff"/>
<path d="M557.00,762.75 A7.75,3.25 0 0 1 572.50,762.75"/>
<path d="M558.50,763.55 Q564.75,765.75 571.00,763.25" stroke-width="1"/>
<rect x="748.35" y="197.45" width="14.50" height="25.50" rx="6.09" ry="5.22" fill="#fff" stroke-width="1.9" transform="rotate(0 755.60 210.20)"/>
<rect x="393.00" y="357.50" width="15.00" height="25.00" rx="6.30" ry="5.40" fill="#fff" stroke-width="1.9" transform="rotate(-12 400.50 370.00)"/>
<rect x="424.25" y="836.35" width="14.50" height="26.50" rx="6.09" ry="5.22" fill="#fff" stroke-width="1.9" transform="rotate(0 431.50 849.60)"/>
<rect x="673.00" y="216.50" width="5.00" height="23.00" rx="1" fill="#fff" stroke-width="1.4"/>
<line x1="673.00" y1="221.40" x2="678.00" y2="220.60" stroke-width="1.35"/>
<line x1="673.00" y1="223.40" x2="678.00" y2="222.60" stroke-width="1.35"/>
<line x1="673.00" y1="225.40" x2="678.00" y2="224.60" stroke-width="1.35"/>
<line x1="673.00" y1="227.40" x2="678.00" y2="226.60" stroke-width="1.35"/>
<line x1="673.00" y1="229.40" x2="678.00" y2="228.60" stroke-width="1.35"/>
<line x1="673.00" y1="231.40" x2="678.00" y2="230.60" stroke-width="1.35"/>
<line x1="673.00" y1="233.40" x2="678.00" y2="232.60" stroke-width="1.35"/>
<line x1="673.00" y1="235.40" x2="678.00" y2="234.60" stroke-width="1.35"/>
<line x1="673.00" y1="237.40" x2="678.00" y2="236.60" stroke-width="1.35"/>
<path d="M669.50,215.50 Q669.50,210.30 675.50,210.10 Q681.50,210.30 681.50,215.50 Q675.50,219.70 669.50,215.50 Z" fill="#fff" stroke-width="1.7"/>
<path d="M672.90,212.30 L678.10,213.90 M677.10,211.30 L673.90,214.90" stroke-width="1.3"/>
<g transform="rotate(0 675.50 251.25)"><ellipse cx="675.50" cy="246.55" rx="5.00" ry="2.80" stroke-width="1.7" fill="#fff"/><ellipse cx="675.50" cy="248.90" rx="5.00" ry="2.80" stroke-width="1.7" fill="#fff"/><ellipse cx="675.50" cy="251.25" rx="5.00" ry="2.80" stroke-width="1.7" fill="#fff"/><ellipse cx="675.50" cy="253.60" rx="5.00" ry="2.80" stroke-width="1.7" fill="#fff"/><ellipse cx="675.50" cy="255.95" rx="5.00" ry="2.80" stroke-width="1.7" fill="#fff"/></g>
<g transform="rotate(0 675.50 282.75)"><rect x="672.50" y="275.00" width="6.00" height="15.50" rx="2.40" fill="#111" stroke-width="0.8"/><line x1="673.30" y1="278.08" x2="677.70" y2="277.08" stroke="#fff" stroke-width="0.7"/><line x1="673.30" y1="280.67" x2="677.70" y2="279.67" stroke="#fff" stroke-width="0.7"/><line x1="673.30" y1="283.25" x2="677.70" y2="282.25" stroke="#fff" stroke-width="0.7"/><line x1="673.30" y1="285.83" x2="677.70" y2="284.83" stroke="#fff" stroke-width="0.7"/><line x1="673.30" y1="288.42" x2="677.70" y2="287.42" stroke="#fff" stroke-width="0.7"/></g>
<rect x="386.25" y="419.50" width="5.00" height="24.25" rx="1" fill="#fff" stroke-width="1.4"/>
<line x1="386.25" y1="424.40" x2="391.25" y2="423.60" stroke-width="1.35"/>
<line x1="386.25" y1="426.40" x2="391.25" y2="425.60" stroke-width="1.35"/>
<line x1="386.25" y1="428.40" x2="391.25" y2="427.60" stroke-width="1.35"/>
<line x1="386.25" y1="430.40" x2="391.25" y2="429.60" stroke-width="1.35"/>
<line x1="386.25" y1="432.40" x2="391.25" y2="431.60" stroke-width="1.35"/>
<line x1="386.25" y1="434.40" x2="391.25" y2="433.60" stroke-width="1.35"/>
<line x1="386.25" y1="436.40" x2="391.25" y2="435.60" stroke-width="1.35"/>
<line x1="386.25" y1="438.40" x2="391.25" y2="437.60" stroke-width="1.35"/>
<line x1="386.25" y1="440.40" x2="391.25" y2="439.60" stroke-width="1.35"/>
<line x1="386.25" y1="442.40" x2="391.25" y2="441.60" stroke-width="1.35"/>
<path d="M382.75,418.50 Q382.75,413.30 388.75,413.10 Q394.75,413.30 394.75,418.50 Q388.75,422.70 382.75,418.50 Z" fill="#fff" stroke-width="1.7"/>
<path d="M386.15,415.30 L391.35,416.90 M390.35,414.30 L387.15,417.90" stroke-width="1.3"/>
<g transform="rotate(0 388.75 461.25)"><ellipse cx="388.75" cy="456.30" rx="5.00" ry="2.80" stroke-width="1.7" fill="#fff"/><ellipse cx="388.75" cy="458.78" rx="5.00" ry="2.80" stroke-width="1.7" fill="#fff"/><ellipse cx="388.75" cy="461.25" rx="5.00" ry="2.80" stroke-width="1.7" fill="#fff"/><ellipse cx="388.75" cy="463.73" rx="5.00" ry="2.80" stroke-width="1.7" fill="#fff"/><ellipse cx="388.75" cy="466.20" rx="5.00" ry="2.80" stroke-width="1.7" fill="#fff"/></g>
<g transform="rotate(-8 367.50 488.75)"><rect x="364.50" y="480.00" width="6.00" height="17.50" rx="2.40" fill="#111" stroke-width="0.8"/><line x1="365.30" y1="483.00" x2="369.70" y2="482.00" stroke="#fff" stroke-width="0.7"/><line x1="365.30" y1="485.50" x2="369.70" y2="484.50" stroke="#fff" stroke-width="0.7"/><line x1="365.30" y1="488.00" x2="369.70" y2="487.00" stroke="#fff" stroke-width="0.7"/><line x1="365.30" y1="490.50" x2="369.70" y2="489.50" stroke="#fff" stroke-width="0.7"/><line x1="365.30" y1="493.00" x2="369.70" y2="492.00" stroke="#fff" stroke-width="0.7"/><line x1="365.30" y1="495.50" x2="369.70" y2="494.50" stroke="#fff" stroke-width="0.7"/></g>
<rect x="696.75" y="662.75" width="5.00" height="22.75" rx="1" fill="#fff" stroke-width="1.4"/>
<line x1="696.75" y1="667.65" x2="701.75" y2="666.85" stroke-width="1.35"/>
<line x1="696.75" y1="669.65" x2="701.75" y2="668.85" stroke-width="1.35"/>
<line x1="696.75" y1="671.65" x2="701.75" y2="670.85" stroke-width="1.35"/>
<line x1="696.75" y1="673.65" x2="701.75" y2="672.85" stroke-width="1.35"/>
<line x1="696.75" y1="675.65" x2="701.75" y2="674.85" stroke-width="1.35"/>
<line x1="696.75" y1="677.65" x2="701.75" y2="676.85" stroke-width="1.35"/>
<line x1="696.75" y1="679.65" x2="701.75" y2="678.85" stroke-width="1.35"/>
<line x1="696.75" y1="681.65" x2="701.75" y2="680.85" stroke-width="1.35"/>
<line x1="696.75" y1="683.65" x2="701.75" y2="682.85" stroke-width="1.35"/>
<path d="M693.25,661.75 Q693.25,656.55 699.25,656.35 Q705.25,656.55 705.25,661.75 Q699.25,665.95 693.25,661.75 Z" fill="#fff" stroke-width="1.7"/>
<path d="M696.65,658.55 L701.85,660.15 M700.85,657.55 L697.65,661.15" stroke-width="1.3"/>
<g transform="rotate(0 700.75 705.38)"><ellipse cx="700.75" cy="699.80" rx="5.00" ry="2.80" stroke-width="1.7" fill="#fff"/><ellipse cx="700.75" cy="702.59" rx="5.00" ry="2.80" stroke-width="1.7" fill="#fff"/><ellipse cx="700.75" cy="705.38" rx="5.00" ry="2.80" stroke-width="1.7" fill="#fff"/><ellipse cx="700.75" cy="708.16" rx="5.00" ry="2.80" stroke-width="1.7" fill="#fff"/><ellipse cx="700.75" cy="710.95" rx="5.00" ry="2.80" stroke-width="1.7" fill="#fff"/></g>
<g transform="rotate(0 702.50 736.25)"><rect x="699.50" y="728.00" width="6.00" height="16.50" rx="2.40" fill="#111" stroke-width="0.8"/><line x1="700.30" y1="731.25" x2="704.70" y2="730.25" stroke="#fff" stroke-width="0.7"/><line x1="700.30" y1="734.00" x2="704.70" y2="733.00" stroke="#fff" stroke-width="0.7"/><line x1="700.30" y1="736.75" x2="704.70" y2="735.75" stroke="#fff" stroke-width="0.7"/><line x1="700.30" y1="739.50" x2="704.70" y2="738.50" stroke="#fff" stroke-width="0.7"/><line x1="700.30" y1="742.25" x2="704.70" y2="741.25" stroke="#fff" stroke-width="0.7"/></g>
<rect x="450.50" y="349.00" width="5.00" height="18.00" rx="1" fill="#fff" stroke-width="1.4"/>
<line x1="450.50" y1="353.90" x2="455.50" y2="353.10" stroke-width="1.35"/>
<line x1="450.50" y1="355.90" x2="455.50" y2="355.10" stroke-width="1.35"/>
<line x1="450.50" y1="357.90" x2="455.50" y2="357.10" stroke-width="1.35"/>
<line x1="450.50" y1="359.90" x2="455.50" y2="359.10" stroke-width="1.35"/>
<line x1="450.50" y1="361.90" x2="455.50" y2="361.10" stroke-width="1.35"/>
<line x1="450.50" y1="363.90" x2="455.50" y2="363.10" stroke-width="1.35"/>
<line x1="450.50" y1="365.90" x2="455.50" y2="365.10" stroke-width="1.35"/>
<path d="M447.00,348.00 Q447.00,342.80 453.00,342.60 Q459.00,342.80 459.00,348.00 Q453.00,352.20 447.00,348.00 Z" fill="#fff" stroke-width="1.7"/>
<path d="M450.40,344.80 L455.60,346.40 M454.60,343.80 L451.40,347.40" stroke-width="1.3"/>
<g transform="rotate(-14 858.00 767.88)"><rect x="855.00" y="758.75" width="6.00" height="18.25" rx="2.40" fill="#111" stroke-width="0.8"/><line x1="855.80" y1="761.86" x2="860.20" y2="760.86" stroke="#fff" stroke-width="0.7"/><line x1="855.80" y1="764.46" x2="860.20" y2="763.46" stroke="#fff" stroke-width="0.7"/><line x1="855.80" y1="767.07" x2="860.20" y2="766.07" stroke="#fff" stroke-width="0.7"/><line x1="855.80" y1="769.68" x2="860.20" y2="768.68" stroke="#fff" stroke-width="0.7"/><line x1="855.80" y1="772.29" x2="860.20" y2="771.29" stroke="#fff" stroke-width="0.7"/><line x1="855.80" y1="774.89" x2="860.20" y2="773.89" stroke="#fff" stroke-width="0.7"/></g>
<g transform="translate(640.50,326.20) rotate(-20.50)">
<ellipse cx="22.56" cy="0" rx="4.50" ry="7.50" fill="#fff" stroke-width="1.5"/>
<ellipse cx="17.42" cy="0" rx="4.50" ry="7.50" fill="#fff" stroke-width="1.5"/>
<ellipse cx="12.28" cy="0" rx="4.50" ry="7.50" fill="#fff" stroke-width="1.5"/>
<ellipse cx="7.14" cy="0" rx="4.50" ry="7.50" fill="#fff" stroke-width="1.5"/>
<ellipse cx="2.00" cy="0" rx="4.50" ry="7.50" fill="#fff" stroke-width="1.5"/>
<ellipse cx="2.6" cy="0.3" rx="2.40" ry="4.50" stroke-width="1.2"/>
</g>
<g transform="translate(702.60,770.00) rotate(-28.26)">
<ellipse cx="16.16" cy="0" rx="4.80" ry="8.00" fill="#fff" stroke-width="1.5"/>
<ellipse cx="12.62" cy="0" rx="4.80" ry="8.00" fill="#fff" stroke-width="1.5"/>
<ellipse cx="9.08" cy="0" rx="4.80" ry="8.00" fill="#fff" stroke-width="1.5"/>
<ellipse cx="5.54" cy="0" rx="4.80" ry="8.00" fill="#fff" stroke-width="1.5"/>
<ellipse cx="2.00" cy="0" rx="4.80" ry="8.00" fill="#fff" stroke-width="1.5"/>
<ellipse cx="2.6" cy="0.3" rx="2.56" ry="4.80" stroke-width="1.2"/>
</g>
<g transform="translate(306.00,815.00) rotate(-21.12)">
<ellipse cx="0.00" cy="0" rx="2.20" ry="5.00" fill="#fff" stroke-width="1.6"/>
<ellipse cx="3.37" cy="0" rx="2.20" ry="5.00" fill="#fff" stroke-width="1.6"/>
<ellipse cx="6.74" cy="0" rx="2.20" ry="5.00" fill="#fff" stroke-width="1.6"/>
<ellipse cx="10.11" cy="0" rx="2.20" ry="5.00" fill="#fff" stroke-width="1.6"/>
<ellipse cx="13.48" cy="0" rx="2.20" ry="5.00" fill="#fff" stroke-width="1.6"/>
<ellipse cx="16.85" cy="0" rx="2.20" ry="5.00" fill="#fff" stroke-width="1.6"/>
<ellipse cx="20.22" cy="0" rx="2.20" ry="5.00" fill="#fff" stroke-width="1.6"/>
<ellipse cx="23.58" cy="0" rx="2.20" ry="5.00" fill="#fff" stroke-width="1.6"/>
</g>
<path d="M330,805 Q338,800 343.5,802.5 Q340,806 332,807.5" stroke-width="1.1"/>
<ellipse cx="613.75" cy="378.00" rx="4.20" ry="6.40" stroke-width="2.7" fill="#fff" transform="rotate(-20 613.75 378.00)"/>
<ellipse cx="542.50" cy="420.00" rx="4.20" ry="6.60" stroke-width="2.7" fill="#fff" transform="rotate(-20 542.50 420.00)"/>
<ellipse cx="598.75" cy="831.25" rx="4.60" ry="7.00" stroke-width="2.7" fill="#fff" transform="rotate(-20 598.75 831.25)"/>
<ellipse cx="528.75" cy="872.50" rx="4.60" ry="7.00" stroke-width="2.7" fill="#fff" transform="rotate(-20 528.75 872.50)"/>
<ellipse cx="721.70" cy="378.30" rx="3.60" ry="5.20" stroke-width="1" fill="#111" transform="rotate(-20 721.70 378.30)"/>
<ellipse cx="663.50" cy="414.30" rx="3.60" ry="4.90" stroke-width="1" fill="#111" transform="rotate(-20 663.50 414.30)"/>
<ellipse cx="733.75" cy="814.50" rx="3.40" ry="4.80" stroke-width="1" fill="#111" transform="rotate(-20 733.75 814.50)"/>
<ellipse cx="686.25" cy="845.50" rx="3.00" ry="4.40" stroke-width="2.4" fill="#fff" transform="rotate(-20 686.25 845.50)"/>
<ellipse cx="333.00" cy="616.25" rx="3.60" ry="5.40" stroke-width="1" fill="#111" transform="rotate(-20 333.00 616.25)"/>
<ellipse cx="323.75" cy="622.50" rx="3.80" ry="5.60" stroke-width="1" fill="#111" transform="rotate(-20 323.75 622.50)"/>
<ellipse cx="324.05" cy="622.50" rx="1.52" ry="2.69" stroke-width="0.5" fill="#fff" transform="rotate(-20 324.05 622.50)"/>
<ellipse cx="261.25" cy="660.00" rx="3.80" ry="5.60" stroke-width="1" fill="#111" transform="rotate(-20 261.25 660.00)"/>
<ellipse cx="236.25" cy="673.75" rx="3.80" ry="5.60" stroke-width="1" fill="#111" transform="rotate(-20 236.25 673.75)"/>
<g transform="translate(580.00,371.50)">
<g transform="translate(-0.6,25.9) rotate(-28.90)">
<path d="M-19,-6.3 L17,-6.3 L17,6.3 L-19,6.3 Z" fill="#fff"/>
<ellipse cx="17" cy="0" rx="3.2" ry="6.3" fill="#111" stroke-width="1"/>
<ellipse cx="-19" cy="0" rx="3.4" ry="6.3" fill="#fff"/>
<ellipse cx="-19.2" cy="0" rx="1.8" ry="3.8" stroke-width="1.3" fill="#111"/>
<path d="M-16,-6.3 Q-13,0 -16,6.3 M-13.4,-6.3 Q-10.4,0 -13.4,6.3 M-10.6,-6.3 Q-7.6,0 -10.6,6.3 M-7.6,-6.3 Q-4.6,0 -7.6,6.3 M12,-6.3 Q15,0 12,6.3 M14.4,-6.3 Q17.4,0 14.4,6.3" stroke-width="1.4"/>
</g>
<path d="M-7,2.5 L-7,21.40 Q0,25.90 7,19.40 L7,2.5 Z" fill="#fff"/>
<path d="M-7,7.5 Q0,11 7,7.5" stroke-width="1"/>
<ellipse cx="0" cy="2.7" rx="7" ry="3" fill="#fff"/>
<ellipse cx="0" cy="2.9" rx="4" ry="1.6" stroke-width="1" fill="#111"/>
</g>
<g transform="translate(563.75,824.50)">
<g transform="translate(-1.9,29.25) rotate(-32.60)">
<path d="M-19,-6.3 L17,-6.3 L17,6.3 L-19,6.3 Z" fill="#fff"/>
<ellipse cx="17" cy="0" rx="3.2" ry="6.3" fill="#111" stroke-width="1"/>
<ellipse cx="-19" cy="0" rx="3.4" ry="6.3" fill="#fff"/>
<ellipse cx="-19.2" cy="0" rx="1.8" ry="3.8" stroke-width="1.3" fill="#111"/>
<path d="M-16,-6.3 Q-13,0 -16,6.3 M-13.4,-6.3 Q-10.4,0 -13.4,6.3 M-10.6,-6.3 Q-7.6,0 -10.6,6.3 M-7.6,-6.3 Q-4.6,0 -7.6,6.3 M12,-6.3 Q15,0 12,6.3 M14.4,-6.3 Q17.4,0 14.4,6.3" stroke-width="1.4"/>
</g>
<path d="M-7,2.5 L-7,24.75 Q0,29.25 7,22.75 L7,2.5 Z" fill="#fff"/>
<path d="M-7,7.5 Q0,11 7,7.5" stroke-width="1"/>
<ellipse cx="0" cy="2.7" rx="7" ry="3" fill="#fff"/>
<ellipse cx="0" cy="2.9" rx="4" ry="1.6" stroke-width="1" fill="#111"/>
</g>
<path d="M120,120 L141.5,99.3 L142,108 L193,138.6 L193,168 L188.5,170.3 L138,145.2 L138.3,153.5 Z" fill="#111" stroke-width="1"/>
<path d="M122,120.2 L138.4,103.6 L138.8,109.2 L187.8,138.9 L187.8,165.6 L138.4,141.6 L135.4,148.2 Z" fill="#fff" stroke-width="0.6"/>
</g><g>
<text transform="matrix(1,0.56,0,1,132.6,133.6)" x="0" y="0" textLength="51" lengthAdjust="spacingAndGlyphs" style="font-size:25px;font-weight:bold;stroke-width:0.7px">FRONT</text>
</g><g fill="none" stroke="#111" stroke-width="1.65" stroke-linecap="round" stroke-linejoin="round">
<g transform="translate(267.60,654.70) rotate(-28.01)">
<rect x="0" y="-5" width="56.86" height="10" rx="2" fill="#fff"/>
<rect x="0" y="-5.4" width="14" height="10.8" rx="2.5" fill="#111" stroke-width="1"/>
<line x1="2.20" y1="-4.2" x2="3.20" y2="4.2" stroke="#fff" stroke-width="0.7"/>
<line x1="4.70" y1="-4.2" x2="5.70" y2="4.2" stroke="#fff" stroke-width="0.7"/>
<line x1="7.20" y1="-4.2" x2="8.20" y2="4.2" stroke="#fff" stroke-width="0.7"/>
<line x1="9.70" y1="-4.2" x2="10.70" y2="4.2" stroke="#fff" stroke-width="0.7"/>
<line x1="12.20" y1="-4.2" x2="13.20" y2="4.2" stroke="#fff" stroke-width="0.7"/>
<rect x="44.86" y="-5.2" width="12" height="10.4" rx="2.5" fill="#111" stroke-width="1"/>
<line x1="46.86" y1="-4.2" x2="47.86" y2="4.2" stroke="#fff" stroke-width="0.7"/>
<line x1="49.36" y1="-4.2" x2="50.36" y2="4.2" stroke="#fff" stroke-width="0.7"/>
<line x1="51.86" y1="-4.2" x2="52.86" y2="4.2" stroke="#fff" stroke-width="0.7"/>
<line x1="54.36" y1="-4.2" x2="55.36" y2="4.2" stroke="#fff" stroke-width="0.7"/>
<rect x="16" y="-6.6" width="24" height="13.2" rx="2.5" fill="#fff"/>
<path d="M22,-6.6 Q25,0 22,6.6" stroke-width="1.2"/>
</g>
<path d="M288,622 L288.6,637 Q292,641 296,635.5 L295.4,622 Z" fill="#fff"/>
<ellipse cx="291.7" cy="621.6" rx="3.8" ry="2" fill="#111"/>
<path d="M288,626 Q291.7,628.6 295.4,626" stroke-width="1"/>
<line x1="290.90" y1="589.00" x2="290.90" y2="619.60"/>
<ellipse cx="291.00" cy="432.00" rx="6.50" ry="3.20" fill="#fff"/>
<ellipse cx="298.70" cy="433.20" rx="2.60" ry="1.50" stroke-width="1.1" fill="#fff"/>
<ellipse cx="295.70" cy="435.00" rx="2.80" ry="1.40" stroke-width="1.1"/>
<ellipse cx="291.00" cy="432.00" rx="0.60" ry="0.40" stroke-width="0.8"/>
<ellipse cx="291.60" cy="584.30" rx="6.50" ry="3.20" fill="#fff"/>
<ellipse cx="299.30" cy="585.50" rx="2.60" ry="1.50" stroke-width="1.1" fill="#fff"/>
<ellipse cx="296.30" cy="587.30" rx="2.80" ry="1.40" stroke-width="1.1"/>
<ellipse cx="291.60" cy="584.30" rx="0.60" ry="0.40" stroke-width="0.8"/>
<line x1="278.00" y1="428.50" x2="284.50" y2="431.00"/>
<ellipse cx="743.60" cy="640.40" rx="7.00" ry="4.00" fill="#fff"/>
<ellipse cx="735.40" cy="638.40" rx="2.60" ry="1.60" stroke-width="1.1" fill="#fff"/>
<ellipse cx="734.10" cy="641.20" rx="2.80" ry="1.50" stroke-width="1.1" fill="#fff"/>
<ellipse cx="809.30" cy="599.20" rx="3.00" ry="6.20" fill="#fff" transform="rotate(25 809.30 599.20)"/>
<path d="M809.5,595 L811.5,589.5 L813.5,592.5 L815.5,589.6 L818.3,590.5 L814.5,596" stroke-width="1.1"/>
<path d="M429.7,391.6 L445.7,379.5 L450.2,382 L463.6,394.2 L459.1,399.9 L445.7,401.8 L444.4,405 L441.9,404.4 L442.5,401.8 L431.6,395.4 Z" stroke-width="1.7" fill="#fff"/>
<path d="M434.2,391 L438.7,387.1 L442.5,392.9 L448.9,389.3 L445.9,382" stroke-width="1.4"/>
<ellipse cx="454.00" cy="396.90" rx="1.90" ry="1.20" stroke-width="1.1"/>
<path d="M463,394 L470.5,389.6 Q472.8,389 471.5,391 L465.5,396.5" stroke-width="1.3" fill="#fff"/>
<path d="M462.5,398.3 L466.5,398" stroke-width="2.6"/>
<line x1="453.40" y1="398.40" x2="453.40" y2="404.00"/>
<g transform="translate(387.60,484.20)">
<path d="M-5,-3.2 Q0,-6.2 6.4,-3.6 L17,4.6 Q24,9 27.2,19.5 Q29,27 25.6,31.5 Q21.5,33.8 16.8,29.8 Q12.5,23 12.2,13.5 L8,9 L4.5,11.5 Q8,14 6,17.2 Q0,19.2 -5.5,16.6 Q-8,12.5 -3,9.2 L-3.5,5.5 Z" fill="#fff"/>
<ellipse cx="0" cy="0" rx="5.8" ry="3.4" stroke-width="2.2" fill="#111"/>
<ellipse cx="0.6" cy="0.4" rx="2.6" ry="1.2" stroke-width="0.6" fill="#fff"/>
<ellipse cx="1.2" cy="12.8" rx="6" ry="3.5" stroke-width="2.2" fill="#111"/>
<ellipse cx="2.2" cy="13.4" rx="3" ry="1.4" stroke-width="0.6" fill="#fff"/>
<ellipse cx="21" cy="25" rx="1.8" ry="4.4" transform="rotate(-12 21 25)" stroke-width="1.2"/>
</g>
<g transform="translate(704.00,293.20)">
<path d="M-5,-3.2 Q0,-6.2 6.4,-3.6 L17,4.6 Q24,9 27.2,19.5 Q29,27 25.6,31.5 Q21.5,33.8 16.8,29.8 Q12.5,23 12.2,13.5 L8,9 L4.5,11.5 Q8,14 6,17.2 Q0,19.2 -5.5,16.6 Q-8,12.5 -3,9.2 L-3.5,5.5 Z" fill="#fff"/>
<ellipse cx="0" cy="0" rx="5.8" ry="3.4" stroke-width="2.2" fill="#111"/>
<ellipse cx="0.6" cy="0.4" rx="2.6" ry="1.2" stroke-width="0.6" fill="#fff"/>
<ellipse cx="1.2" cy="12.8" rx="6" ry="3.5" stroke-width="2.2" fill="#111"/>
<ellipse cx="2.2" cy="13.4" rx="3" ry="1.4" stroke-width="0.6" fill="#fff"/>
<ellipse cx="21" cy="25" rx="1.8" ry="4.4" transform="rotate(-12 21 25)" stroke-width="1.2"/>
</g>
<path d="M721.5,733.5 Q719.5,735.8 722.5,737.2 L733.5,742.2 Q736.8,742.6 736.2,740 L727,734.4 Q723.5,732.4 721.5,733.5 Z" fill="#fff"/>
<path d="M730.5,742 L734,747" stroke-width="1"/>
<path d="M731,746.8 L736.5,745 L741,747.2 L746.5,745.8 L747,752.6 L741.5,755 L736,756 L731,753.2 Z" fill="#fff"/>
<ellipse cx="735.30" cy="750.60" rx="3.40" ry="4.20" stroke-width="1.2"/>
<ellipse cx="735.30" cy="750.60" rx="1.30" ry="1.80" stroke-width="1"/>
<path d="M741,747.2 L741.5,755" stroke-width="1"/>
<path d="M414,940 L424,943.5 L424.5,954.5 L414.5,953.8 Z" stroke-width="1" fill="#fff"/>
<ellipse cx="414.00" cy="946.90" rx="6.00" ry="7.20" stroke-width="1.8" fill="#fff" transform="rotate(-12 414.00 946.90)"/>
<ellipse cx="414.40" cy="947.10" rx="3.00" ry="4.20" stroke-width="1.2" transform="rotate(-12 414.40 947.10)"/>
<path d="M416.5,940 L425,943 M417,953.9 L425,956" stroke-width="1.1"/>
<path d="M270.00,869.50 L324.93,836.66 L328.36,833.01 L464.66,751.52 L468.10,751.87 L468.53,758.31 L462.95,765.15 L441.66,777.37 L438.23,781.43 L385.01,812.24 L382.44,810.78 L380.72,817.31 L376.43,823.37 L371.28,823.45 L369.13,820.73 L355.83,831.69 L352.40,836.74 L342.10,841.40 L338.66,840.45 L326.65,846.13 L280.30,873.84 L277.72,878.38 L271.72,881.97 L270.00,885.50 L270.17,891.40 L268.28,888.53 L268.71,874.27 Z" fill="#fff"/>
<path d="M270.86,871.19 L324.93,838.86 L328.36,835.21 L466.38,752.70" stroke-width="1"/>
<path d="M445.09,763.22 L444.24,755.33 L448.53,748.27 L453.68,746.19 L456.25,749.15 L457.11,756.04" fill="#fff"/>
<path d="M447.67,761.28 L446.81,754.79 L449.39,750.26" stroke-width="1"/>
<ellipse cx="452.39" cy="752.96" rx="1.60" ry="2.60" stroke-width="1.1" transform="rotate(-20 452.39 752.96)"/>
<line x1="281.59" y1="869.17" x2="291.03" y2="863.53" stroke-width="4.4" />
<line x1="281.59" y1="869.17" x2="291.03" y2="863.53" stroke-width="1.20" stroke="#fff"/>
<line x1="339.95" y1="834.88" x2="351.97" y2="827.70" stroke-width="6.4" />
<line x1="339.95" y1="834.88" x2="351.97" y2="827.70" stroke-width="3.20" stroke="#fff"/>
<line x1="400.89" y1="797.65" x2="412.05" y2="790.98" stroke-width="4.6" />
<line x1="400.89" y1="797.65" x2="412.05" y2="790.98" stroke-width="1.40" stroke="#fff"/>
<line x1="453.68" y1="765.29" x2="463.12" y2="759.64" stroke-width="4.4" />
<line x1="453.68" y1="765.29" x2="463.12" y2="759.64" stroke-width="1.20" stroke="#fff"/>
<ellipse cx="337.60" cy="845.40" rx="3.20" ry="4.40" stroke-width="1.7" fill="#fff" transform="rotate(-25 337.60 845.40)"/>
<ellipse cx="341.00" cy="847.20" rx="2.40" ry="3.80" stroke-width="1.6" fill="#fff" transform="rotate(-25 341.00 847.20)"/>
<ellipse cx="399.00" cy="809.60" rx="3.20" ry="4.40" stroke-width="1.7" fill="#fff" transform="rotate(-25 399.00 809.60)"/>
<ellipse cx="402.40" cy="811.40" rx="2.40" ry="3.80" stroke-width="1.6" fill="#fff" transform="rotate(-25 402.40 811.40)"/>
<ellipse cx="450.40" cy="778.60" rx="3.20" ry="4.40" stroke-width="1.7" fill="#fff" transform="rotate(-25 450.40 778.60)"/>
<ellipse cx="453.80" cy="780.40" rx="2.40" ry="3.80" stroke-width="1.6" fill="#fff" transform="rotate(-25 453.80 780.40)"/>
<path d="M272.5,884.5 Q270.5,889.5 274,890.8 Q279.5,891.8 281,888.6 Q280,884.4 276.2,884.6" stroke-width="1.7" fill="#fff"/>
<ellipse cx="421.80" cy="748.90" rx="4.00" ry="5.00" stroke-width="2.0" fill="#111" transform="rotate(-25 421.80 748.90)"/>
<ellipse cx="423.20" cy="749.50" rx="2.10" ry="2.75" stroke-width="1" fill="#fff" transform="rotate(-25 423.20 749.50)"/>
<ellipse cx="264.40" cy="855.60" rx="4.00" ry="5.00" stroke-width="2.0" fill="#111" transform="rotate(-25 264.40 855.60)"/>
<ellipse cx="265.80" cy="856.20" rx="2.10" ry="2.75" stroke-width="1" fill="#fff" transform="rotate(-25 265.80 856.20)"/>
<ellipse cx="308.60" cy="880.30" rx="4.00" ry="5.00" stroke-width="2.0" fill="#111" transform="rotate(-25 308.60 880.30)"/>
<ellipse cx="310.00" cy="880.90" rx="2.10" ry="2.75" stroke-width="1" fill="#fff" transform="rotate(-25 310.00 880.90)"/>
<ellipse cx="478.60" cy="775.40" rx="4.60" ry="6.20" stroke-width="1.6" fill="#111" transform="rotate(-20 478.60 775.40)"/>
<ellipse cx="480.20" cy="775.90" rx="2.20" ry="3.20" stroke-width="0.8" fill="#fff" transform="rotate(-20 480.20 775.90)"/>
<path d="M475,771.5 L477.2,770.3 M474.4,774.5 L476.4,773.6 M474.6,777.6 L476.4,776.8" stroke-width="0.7" stroke="#fff"/>
<g transform="translate(391.20,736.40) rotate(19.48)">
<rect x="2" y="-2.6" width="15.40" height="5.2" rx="1.5" fill="#fff" stroke-width="1.4"/>
<line x1="5.50" y1="-2.6" x2="6.10" y2="2.6" stroke-width="1.4"/>
<line x1="7.70" y1="-2.6" x2="8.30" y2="2.6" stroke-width="1.4"/>
<line x1="9.90" y1="-2.6" x2="10.50" y2="2.6" stroke-width="1.4"/>
<line x1="12.10" y1="-2.6" x2="12.70" y2="2.6" stroke-width="1.4"/>
<line x1="14.30" y1="-2.6" x2="14.90" y2="2.6" stroke-width="1.4"/>
<ellipse cx="2.2" cy="0" rx="2.6" ry="6.00" fill="#fff" stroke-width="1.5"/>
<ellipse cx="-0.5" cy="0" rx="3.4" ry="5.00" fill="#fff" stroke-width="1.8"/>
<ellipse cx="-1" cy="0" rx="1.5" ry="2.25" stroke-width="1.3"/>
</g>
<g transform="translate(240.00,843.20) rotate(26.23)">
<rect x="2" y="-2.6" width="13.38" height="5.2" rx="1.5" fill="#fff" stroke-width="1.4"/>
<line x1="5.50" y1="-2.6" x2="6.10" y2="2.6" stroke-width="1.4"/>
<line x1="7.70" y1="-2.6" x2="8.30" y2="2.6" stroke-width="1.4"/>
<line x1="9.90" y1="-2.6" x2="10.50" y2="2.6" stroke-width="1.4"/>
<line x1="12.10" y1="-2.6" x2="12.70" y2="2.6" stroke-width="1.4"/>
<ellipse cx="2.2" cy="0" rx="2.6" ry="6.00" fill="#fff" stroke-width="1.5"/>
<ellipse cx="-0.5" cy="0" rx="3.4" ry="5.00" fill="#fff" stroke-width="1.8"/>
<ellipse cx="-1" cy="0" rx="1.5" ry="2.25" stroke-width="1.3"/>
</g>
<path d="M703.80,461.70 L736.43,442.22 L739.00,437.28 L760.46,424.46 L763.04,426.32 L789.66,410.43 L792.23,405.49 L824.00,386.52 L826.57,388.38 L857.48,369.92 L860.06,364.99 L882.38,351.65 L884.96,353.52 L908.14,339.67 L911.57,334.62 L917.24,330.64 L919.81,333.10 L918.53,342.87 L885.81,363.40 L884.10,369.43 L881.52,371.97 L863.49,382.93 L860.92,378.47 L832.58,395.39 L830.87,401.42 L828.29,404.16 L794.81,424.35 L792.23,419.69 L764.76,436.10 L763.04,442.12 L760.46,444.86 L742.44,455.83 L739.86,451.17 L710.67,469.00 L707.23,473.25 L704.32,473.59 L703.28,465.01 Z" fill="#fff"/>
<path d="M711.53,463.69 L918.10,338.13" stroke-width="2.4"/>
<path d="M742.44,454.03 L760.46,443.06" stroke-width="2.0"/>
<path d="M739.86,451.07 L763.04,437.02" stroke-width="1"/>
<path d="M794.81,422.75 L828.29,402.56" stroke-width="2.0"/>
<path d="M792.23,419.79 L830.87,396.52" stroke-width="1"/>
<path d="M863.49,381.73 L881.52,370.77" stroke-width="2.0"/>
<path d="M860.92,378.77 L884.10,364.73" stroke-width="1"/>
<path d="M712.39,465.47 L736.43,450.92" stroke-width="1"/>
<path d="M765.62,433.68 L789.66,419.13" stroke-width="1"/>
<path d="M832.58,393.69 L858.34,378.11" stroke-width="1"/>
<path d="M887.53,360.88 L908.14,348.37" stroke-width="1"/>
<ellipse cx="740.72" cy="448.25" rx="1.20" ry="1.20" stroke-width="1" fill="#fff"/>
<ellipse cx="790.51" cy="418.52" rx="1.20" ry="1.20" stroke-width="1" fill="#fff"/>
<ellipse cx="827.43" cy="396.47" rx="1.20" ry="1.20" stroke-width="1" fill="#fff"/>
<ellipse cx="859.20" cy="377.50" rx="1.20" ry="1.20" stroke-width="1" fill="#fff"/>
<ellipse cx="883.24" cy="363.14" rx="1.20" ry="1.20" stroke-width="1" fill="#fff"/>
<ellipse cx="707.66" cy="467.39" rx="1.50" ry="2.20" stroke-width="1.2"/>
<path d="M711.10,459.94 L711.10,468.34" stroke-width="1.1"/>
<g transform="translate(944.6,364.2) rotate(30)">
<rect x="-16" y="-2.4" width="13" height="4.8" rx="1" fill="#fff" stroke-width="1.2"/>
<line x1="-14.5" y1="-2.4" x2="-13.7" y2="2.4" stroke-width="1.1"/>
<line x1="-12.2" y1="-2.4" x2="-11.4" y2="2.4" stroke-width="1.1"/>
<line x1="-9.9" y1="-2.4" x2="-9.1" y2="2.4" stroke-width="1.1"/>
<line x1="-7.6" y1="-2.4" x2="-6.8" y2="2.4" stroke-width="1.1"/>
<line x1="-5.3" y1="-2.4" x2="-4.5" y2="2.4" stroke-width="1.1"/>
<ellipse cx="-3" cy="0" rx="2.6" ry="5.8" fill="#fff"/><ellipse cx="0" cy="0" rx="4.8" ry="5.8" fill="#fff" stroke-width="1.5"/>
<path d="M-2.4,-0.4 L2.6,0.4 M0.4,-3 L-0.2,3" stroke-width="1.1"/>
</g>
<path d="M298.75,1146.25 L300.50,1138.75 L305.00,1133.00 L311.25,1130.00 L319.50,1126.75 L321.25,1123.25 L375.00,1093.75 L379.00,1091.50 L380.50,1088.50 L430.00,1061.25 L434.00,1058.75 L435.50,1056.00 L480.00,1032.50 L483.00,1029.75 L492.50,1026.00 L497.00,1029.50 L500.00,1037.00 L506.25,1041.25 L506.75,1047.50 L500.00,1051.50 L491.25,1055.00 L481.25,1057.50 L470.00,1058.25 L457.00,1069.00 L455.75,1078.00 L448.00,1085.00 L435.00,1089.00 L422.50,1089.50 L403.00,1098.75 L401.50,1101.50 L400.25,1110.00 L393.00,1116.50 L380.00,1121.00 L366.25,1120.25 L344.50,1133.00 L343.75,1136.25 L341.50,1143.00 L334.00,1149.00 L315.50,1156.50 L305.50,1155.25 L300.00,1150.75 Z" stroke-width="1.5" fill="#fff"/>
<path d="M302.00,1150.00 L301.00,1142.50 L305.00,1136.25 L312.50,1132.50 L322.00,1127.50 L376.25,1097.00 L381.25,1092.50 L431.25,1064.50 L436.25,1059.50 L481.25,1035.50 L490.00,1030.50" stroke-width="0.9"/>
<path d="M331.25,1135.00 L362.50,1118.00 L366.25,1117.00 M393.75,1102.00 L420.00,1087.00 L423.75,1086.00 M448.75,1070.00 L470.00,1059.00" stroke-width="0.9"/>
<path d="M317.50,1153.75 L332.50,1147.50 L339.50,1142.00 L342.00,1134.25 L367.50,1119.00 L380.00,1119.50 L392.00,1115.00 L398.50,1109.00 L400.00,1100.00 L423.00,1088.00 L435.00,1087.50 L447.00,1083.25 L454.00,1077.00 L455.50,1068.00 L470.00,1057.00" stroke-width="0.9"/>
<path d="M313.00,1142.20 Q312.50,1137.00 319.00,1134.80 L325.10,1133.50 Q324.00,1138.00 327.50,1139.80 Q324.50,1145.60 317.50,1145.80 Q313.50,1145.40 313.00,1142.20 Z" stroke-width="1.2"/>
<path d="M374.25,1107.20 Q373.75,1102.00 380.25,1099.80 L386.35,1098.50 Q385.25,1103.00 388.75,1104.80 Q385.75,1110.60 378.75,1110.80 Q374.75,1110.40 374.25,1107.20 Z" stroke-width="1.2"/>
<path d="M429.25,1074.70 Q428.75,1069.50 435.25,1067.30 L441.35,1066.00 Q440.25,1070.50 443.75,1072.30 Q440.75,1078.10 433.75,1078.30 Q429.75,1077.90 429.25,1074.70 Z" stroke-width="1.2"/>
<path d="M479.25,1045.95 Q478.75,1040.75 485.25,1038.55 L491.35,1037.25 Q490.25,1041.75 493.75,1043.55 Q490.75,1049.35 483.75,1049.55 Q479.75,1049.15 479.25,1045.95 Z" stroke-width="1.2"/>
<ellipse cx="336.25" cy="1137.50" rx="2.40" ry="1.70" stroke-width="1.6" transform="rotate(-20 336.25 1137.50)"/>
<ellipse cx="395.00" cy="1104.50" rx="2.40" ry="1.70" stroke-width="1.6" transform="rotate(-20 395.00 1104.50)"/>
<ellipse cx="450.00" cy="1072.00" rx="2.40" ry="1.70" stroke-width="1.6" transform="rotate(-20 450.00 1072.00)"/>
<ellipse cx="500.00" cy="1042.00" rx="2.40" ry="1.70" stroke-width="1.6" transform="rotate(-20 500.00 1042.00)"/>
<ellipse cx="374.25" cy="1116.25" rx="1.60" ry="1.30" stroke-width="1"/>
<ellipse cx="429.50" cy="1083.75" rx="1.60" ry="1.30" stroke-width="1"/>
<ellipse cx="480.00" cy="1053.75" rx="1.60" ry="1.30" stroke-width="1"/>
<ellipse cx="312.00" cy="1152.20" rx="2.00" ry="1.40" stroke-width="1.2"/>
<line x1="310.80" y1="1091.25" x2="311.60" y2="1174.00"/>
<rect x="309.3" y="1173.5" width="5.6" height="11" rx="1.2" fill="#fff" stroke-width="1.1"/>
<line x1="309.3" y1="1176.5" x2="314.9" y2="1175.9" stroke-width="1"/>
<line x1="309.3" y1="1178.7" x2="314.9" y2="1178.1" stroke-width="1"/>
<line x1="309.3" y1="1180.9" x2="314.9" y2="1180.3" stroke-width="1"/>
<line x1="309.3" y1="1183.1" x2="314.9" y2="1182.5" stroke-width="1"/>
<ellipse cx="312.3" cy="1185.8" rx="6.6" ry="2.6" fill="#fff" stroke-width="1.3"/>
<path d="M306.6,1187.5 L306.8,1193 Q312.3,1196.5 318,1193 L318.2,1187.5" fill="#fff" stroke-width="1.3"/>
<path d="M310.2,1188.4 L310.2,1194.5 M314.8,1188.4 L314.8,1194.5" stroke-width="1"/>
<path d="M735.1,622.3 L729,576 Q727,556 741,554.2 Q748,553.6 758.1,559.1 L768.6,565.6 Q771,569.5 767.5,574.5 Q764.5,578.6 761.2,576.6 L747,568.6 Q741.5,567.5 741.3,575 L747.1,620.3 Q741.5,626 735.1,622.3 Z" fill="#fff"/>
<ellipse cx="766.20" cy="571.00" rx="2.20" ry="4.40" stroke-width="1.1" transform="rotate(30 766.20 571.00)"/>
<path d="M742.2,571.5 L743.2,576.5" stroke-width="1"/>
<g transform="translate(773.2,577.1) rotate(30.6)">
<path d="M0,-6.2 L25.5,-6.2 L25.5,6.2 L0,6.2 Z" fill="#fff"/>
<ellipse cx="0" cy="0" rx="3" ry="6.2" fill="#fff"/><ellipse cx="25.5" cy="0" rx="3.2" ry="6.2" fill="#fff"/><ellipse cx="25.8" cy="0.2" rx="1.6" ry="3.6" fill="#111" stroke-width="0.8"/>
</g>
<path d="M864.5,628.3 L858.6,643.8 L860.4,647.6 L862.8,646 L872.5,653.6 L878.6,651.6 L880.2,661.8 L888.6,664.6 L891.2,661 L887.6,658.4 L886.6,646.4 L880,633 L880.6,618.5 L870,616 Z" fill="#fff"/>
<path d="M878.6,651.6 L886.2,648 M880.2,661.8 L887.6,658.4" stroke-width="1"/>
<path d="M845.6,611.6 L846.2,618.6 Q850.5,623.4 856,619.6 L866,620.8 L866.5,613.5 L855.4,611.4 Z" fill="#fff"/>
<ellipse cx="850.50" cy="611.30" rx="5.00" ry="3.40" fill="#fff"/>
<path d="M865,606.5 Q869.5,603.2 874.6,606.5 L874.6,612.5 Q869.5,615 865,612.5 Z" stroke-width="1.3" fill="#fff"/>
<ellipse cx="869.80" cy="606.60" rx="3.00" ry="1.80" stroke-width="1.1"/>
<path d="M867.5,617.3 L873,614.5 L880.6,617.6 L880.6,628.3 L874.5,631 L867.5,628.3 Z" fill="#fff"/>
<path d="M873,614.5 L873.6,624.5 L880.6,628.3 M873.6,624.5 L867.5,628.3" stroke-width="1"/>
<g transform="translate(916.00,628.40) rotate(149.37)">
<rect x="2" y="-2.6" width="15.66" height="5.2" rx="1.5" fill="#fff" stroke-width="1.4"/>
<line x1="5.50" y1="-2.6" x2="6.10" y2="2.6" stroke-width="1.4"/>
<line x1="7.70" y1="-2.6" x2="8.30" y2="2.6" stroke-width="1.4"/>
<line x1="9.90" y1="-2.6" x2="10.50" y2="2.6" stroke-width="1.4"/>
<line x1="12.10" y1="-2.6" x2="12.70" y2="2.6" stroke-width="1.4"/>
<line x1="14.30" y1="-2.6" x2="14.90" y2="2.6" stroke-width="1.4"/>
<ellipse cx="2.2" cy="0" rx="2.6" ry="6.40" fill="#fff" stroke-width="1.5"/>
<ellipse cx="-0.5" cy="0" rx="3.4" ry="5.40" fill="#fff" stroke-width="1.8"/>
<ellipse cx="-1" cy="0" rx="1.5" ry="2.43" stroke-width="1.3"/>
</g>
<g transform="translate(864.3,793.5) rotate(74)">
<rect x="0" y="-1.7" width="21" height="3.4" rx="1" fill="#111" stroke-width="0.8"/>
</g>
<path d="M868.8,813.5 Q873,826 875.3,840 Q877.5,862 864.5,877 Q857,885.5 848.2,889.6" stroke-width="5.6"/>
<path d="M868.8,813.5 Q873,826 875.3,840 Q877.5,862 864.5,877 Q857,885.5 848.2,889.6" stroke-width="2.4" stroke="#fff"/>
<path d="M869.5,821 L873.5,820 M870.8,826.5 L874.8,825.5" stroke-width="1"/>
<path d="M850.5,886.5 L846.5,891.5" stroke-width="1"/>
<line x1="847.50" y1="890.00" x2="823.00" y2="907.00" stroke-width="2.6"/>
<line x1="847.50" y1="890.00" x2="823.00" y2="907.00" stroke-width="0.8"/>
<line x1="847.5" y1="890" x2="823" y2="907" stroke="#fff" stroke-width="0.9"/>
<line x1="818.00" y1="910.50" x2="788.00" y2="929.00" stroke-width="3.4"/>
<line x1="818" y1="910.5" x2="788" y2="929" stroke="#fff" stroke-width="1.2"/>
<ellipse cx="820.60" cy="910.20" rx="2.60" ry="6.00" stroke-width="1.3" fill="#fff" transform="rotate(-25 820.60 910.20)"/>
<circle cx="780.3" cy="932.6" r="7.4" fill="#111" stroke-width="1.2"/>
<line x1="784.63" y1="933.36" x2="787.39" y2="933.85" stroke="#fff" stroke-width="0.8"/>
<line x1="783.67" y1="935.43" x2="785.82" y2="937.23" stroke="#fff" stroke-width="0.8"/>
<line x1="781.80" y1="936.73" x2="782.76" y2="939.37" stroke="#fff" stroke-width="0.8"/>
<line x1="779.54" y1="936.93" x2="779.05" y2="939.69" stroke="#fff" stroke-width="0.8"/>
<line x1="777.47" y1="935.97" x2="775.67" y2="938.12" stroke="#fff" stroke-width="0.8"/>
<line x1="776.17" y1="934.10" x2="773.53" y2="935.06" stroke="#fff" stroke-width="0.8"/>
<line x1="775.97" y1="931.84" x2="773.21" y2="931.35" stroke="#fff" stroke-width="0.8"/>
<line x1="776.93" y1="929.77" x2="774.78" y2="927.97" stroke="#fff" stroke-width="0.8"/>
<line x1="778.80" y1="928.47" x2="777.84" y2="925.83" stroke="#fff" stroke-width="0.8"/>
<line x1="781.06" y1="928.27" x2="781.55" y2="925.51" stroke="#fff" stroke-width="0.8"/>
<line x1="783.13" y1="929.23" x2="784.93" y2="927.08" stroke="#fff" stroke-width="0.8"/>
<line x1="784.43" y1="931.10" x2="787.07" y2="930.14" stroke="#fff" stroke-width="0.8"/>
<circle cx="779.4" cy="933.4" r="3.6" fill="#fff" stroke-width="1"/>
<circle cx="779.2" cy="933.6" r="1.5" stroke-width="1"/>
<path d="M786.5,927.5 L790,923.8 L795,926 L794.4,931.5 L789,934" stroke-width="1.3" fill="#fff"/>
<path d="M798.5,871.5 Q796.8,868.2 800.5,866.8 L838.5,848.4 Q843.8,847.6 845.6,851.4 Q846.5,855 842.5,856.8 L805,875 Q800.6,875.6 798.5,871.5 Z" fill="#fff"/>
<ellipse cx="802.40" cy="871.20" rx="2.30" ry="1.50" stroke-width="1.1"/>
<ellipse cx="841.00" cy="852.40" rx="2.30" ry="1.50" stroke-width="1.1"/>
<path d="M805,875.5 L805,888 L794.5,892.5 L783.8,918.6 L787,921.5 L807.6,908.6 L807.5,902.5 L812.8,900 L818.5,898.6 L828.8,880.6 L831.5,862.5" stroke-width="1.3"/>
<path d="M805,888 L808.5,890 L808.5,902 M818.5,898.6 L812,893 L812,877 M814.5,874 Q822,868 820,880 Q817.5,889 814.5,892" stroke-width="1"/>
<path d="M798.2,896.6 L790.6,913.8 L802.8,906 Z" stroke-width="1.2"/>
<path d="M857.4,783.4 L861,780.6 L866.8,781.8 L867.6,787.4 L863.8,790.4 L857.8,789 Z" stroke-width="1.2" fill="#111"/>
<ellipse cx="862.30" cy="784.20" rx="3.20" ry="1.90" stroke-width="0.8" fill="#fff"/>
<ellipse cx="862.30" cy="784.30" rx="1.20" ry="0.80" stroke-width="0.8"/>
<g transform="translate(674.70,407.30) rotate(-28.13)">
<path d="M0,-4.70 L31.18,-4.70 A2.82,4.70 0 0 1 31.18,4.70 L0,4.70 Z" fill="#fff"/>
<path d="M28.18,-4.70 A2.82,4.70 0 0 1 28.18,4.70 L31.18,4.70 A2.82,4.70 0 0 0 31.18,-4.70 Z" fill="#111" stroke-width="0.8"/>
<ellipse cx="0" cy="0" rx="3.20" ry="4.70" fill="#111"/>
<ellipse cx="0.3" cy="0.3" rx="1.32" ry="2.26" fill="#fff" stroke-width="0.6"/>
<path d="M4.5,-4.70 A2.82,4.70 0 0 1 4.5,4.70" stroke-width="1.6"/>
</g>
<g transform="translate(695.50,837.60) rotate(-30.67)">
<path d="M0,-5.00 L33.72,-5.00 A3.00,5.00 0 0 1 33.72,5.00 L0,5.00 Z" fill="#fff"/>
<path d="M30.72,-5.00 A3.00,5.00 0 0 1 30.72,5.00 L33.72,5.00 A3.00,5.00 0 0 0 33.72,-5.00 Z" fill="#111" stroke-width="0.8"/>
<ellipse cx="0" cy="0" rx="3.40" ry="5.00" fill="#111"/>
<ellipse cx="0.3" cy="0.3" rx="1.40" ry="2.40" fill="#fff" stroke-width="0.6"/>
<path d="M4.5,-5.00 A3.00,5.00 0 0 1 4.5,5.00" stroke-width="1.6"/>
</g>
</g><g>
<text x="893.5" y="85.5" textLength="59.5" lengthAdjust="spacing" style="font-size:16px;font-weight:normal;stroke:#111;stroke-width:0.5px">E1611</text>
<text x="603.05" y="134.25" textLength="47.65" lengthAdjust="spacingAndGlyphs">15001</text>
<text x="421.90" y="235.10" textLength="63.40" lengthAdjust="spacingAndGlyphs">92059A</text>
<text x="791.80" y="216.75" textLength="50.15" lengthAdjust="spacingAndGlyphs">92066</text>
<text x="604.80" y="231.75" textLength="48.40" lengthAdjust="spacingAndGlyphs">92001</text>
<text x="594.30" y="257.50" textLength="62.65" lengthAdjust="spacingAndGlyphs">92081A</text>
<text x="595.05" y="288.75" textLength="61.15" lengthAdjust="spacingAndGlyphs">92081B</text>
<text x="830.55" y="279.25" textLength="61.40" lengthAdjust="spacingAndGlyphs">15002C</text>
<text x="566.05" y="330.00" textLength="61.65" lengthAdjust="spacingAndGlyphs">92081C</text>
<text x="318.80" y="374.50" textLength="49.90" lengthAdjust="spacingAndGlyphs">92066</text>
<text x="469.80" y="361.25" textLength="29.65" lengthAdjust="spacingAndGlyphs">223</text>
<text x="477.30" y="402.00" textLength="60.90" lengthAdjust="spacingAndGlyphs">13169C</text>
<text x="651.30" y="378.00" textLength="61.40" lengthAdjust="spacingAndGlyphs">92005A</text>
<text x="915.55" y="390.75" textLength="42.15" lengthAdjust="spacingAndGlyphs">223A</text>
<text x="591.30" y="413.75" textLength="62.40" lengthAdjust="spacingAndGlyphs">92055A</text>
<text x="699.30" y="416.25" textLength="49.65" lengthAdjust="spacingAndGlyphs">92055</text>
<text x="227.30" y="434.50" textLength="49.15" lengthAdjust="spacingAndGlyphs">92037</text>
<text x="323.80" y="440.00" textLength="48.65" lengthAdjust="spacingAndGlyphs">92001</text>
<text x="556.80" y="438.00" textLength="61.40" lengthAdjust="spacingAndGlyphs">92005B</text>
<text x="641.30" y="446.25" textLength="49.40" lengthAdjust="spacingAndGlyphs">92055</text>
<text x="786.05" y="448.00" textLength="60.90" lengthAdjust="spacingAndGlyphs">13169A</text>
<text x="305.55" y="466.25" textLength="62.65" lengthAdjust="spacingAndGlyphs">92081A</text>
<text x="514.80" y="470.75" textLength="62.90" lengthAdjust="spacingAndGlyphs">92055A</text>
<text x="217.30" y="495.00" textLength="49.65" lengthAdjust="spacingAndGlyphs">92059</text>
<text x="339.30" y="531.25" textLength="61.40" lengthAdjust="spacingAndGlyphs">92081B</text>
<text x="730.55" y="535.50" textLength="62.15" lengthAdjust="spacingAndGlyphs">92059B</text>
<text x="224.80" y="589.50" textLength="49.65" lengthAdjust="spacingAndGlyphs">92037</text>
<text x="835.55" y="593.75" textLength="48.15" lengthAdjust="spacingAndGlyphs">13169</text>
<text x="296.80" y="602.50" textLength="62.65" lengthAdjust="spacingAndGlyphs">92055A</text>
<text x="446.10" y="598.00" textLength="60.00" lengthAdjust="spacingAndGlyphs">15002B</text>
<text x="884.80" y="613.00" textLength="61.40" lengthAdjust="spacingAndGlyphs">92009B</text>
<text x="223.80" y="627.00" textLength="49.40" lengthAdjust="spacingAndGlyphs">92005</text>
<text x="777.30" y="638.75" textLength="62.90" lengthAdjust="spacingAndGlyphs">92037A</text>
<text x="640.55" y="647.00" textLength="63.15" lengthAdjust="spacingAndGlyphs">92037A</text>
<text x="202.30" y="648.00" textLength="62.65" lengthAdjust="spacingAndGlyphs">92055A</text>
<text x="300.05" y="659.50" textLength="62.65" lengthAdjust="spacingAndGlyphs">92055A</text>
<text x="629.30" y="678.00" textLength="48.40" lengthAdjust="spacingAndGlyphs">92001</text>
<text x="226.80" y="698.00" textLength="62.65" lengthAdjust="spacingAndGlyphs">92055A</text>
<text x="473.55" y="709.25" textLength="63.40" lengthAdjust="spacingAndGlyphs">92059A</text>
<text x="618.80" y="711.75" textLength="62.65" lengthAdjust="spacingAndGlyphs">92081A</text>
<text x="842.30" y="727.90" textLength="61.40" lengthAdjust="spacingAndGlyphs">15002A</text>
<text x="396.80" y="730.00" textLength="48.90" lengthAdjust="spacingAndGlyphs">92022</text>
<text x="620.55" y="741.75" textLength="61.40" lengthAdjust="spacingAndGlyphs">92081B</text>
<text x="357.55" y="767.00" textLength="63.15" lengthAdjust="spacingAndGlyphs">92009A</text>
<text x="621.30" y="767.50" textLength="61.90" lengthAdjust="spacingAndGlyphs">92081C</text>
<text x="878.55" y="771.75" textLength="48.40" lengthAdjust="spacingAndGlyphs">92081</text>
<text x="883.80" y="791.75" textLength="62.40" lengthAdjust="spacingAndGlyphs">92022A</text>
<text x="288.80" y="791.75" textLength="62.65" lengthAdjust="spacingAndGlyphs">92081D</text>
<text x="676.80" y="803.75" textLength="62.65" lengthAdjust="spacingAndGlyphs">92005A</text>
<text x="453.80" y="809.50" textLength="49.40" lengthAdjust="spacingAndGlyphs">92022</text>
<text x="239.30" y="830.00" textLength="48.90" lengthAdjust="spacingAndGlyphs">92022</text>
<text x="460.55" y="850.00" textLength="49.90" lengthAdjust="spacingAndGlyphs">92066</text>
<text x="899.30" y="849.50" textLength="48.40" lengthAdjust="spacingAndGlyphs">16021</text>
<text x="712.55" y="852.50" textLength="49.40" lengthAdjust="spacingAndGlyphs">92055</text>
<text x="352.30" y="855.00" textLength="48.90" lengthAdjust="spacingAndGlyphs">13168</text>
<text x="664.30" y="876.75" textLength="49.40" lengthAdjust="spacingAndGlyphs">92055</text>
<text x="201.80" y="878.00" textLength="61.40" lengthAdjust="spacingAndGlyphs">92009A</text>
<text x="572.30" y="878.00" textLength="63.40" lengthAdjust="spacingAndGlyphs">92055A</text>
<text x="539.30" y="897.50" textLength="61.90" lengthAdjust="spacingAndGlyphs">92005B</text>
<text x="282.55" y="913.25" textLength="48.90" lengthAdjust="spacingAndGlyphs">92022</text>
<text x="511.30" y="917.50" textLength="62.40" lengthAdjust="spacingAndGlyphs">92055A</text>
<text x="347.55" y="950.50" textLength="47.40" lengthAdjust="spacingAndGlyphs">15002</text>
<text x="362.55" y="1145.75" textLength="60.65" lengthAdjust="spacingAndGlyphs">13169B</text>
<text x="328.05" y="1185.75" textLength="48.90" lengthAdjust="spacingAndGlyphs">92009</text>
</g>
</svg>
</body></html>
